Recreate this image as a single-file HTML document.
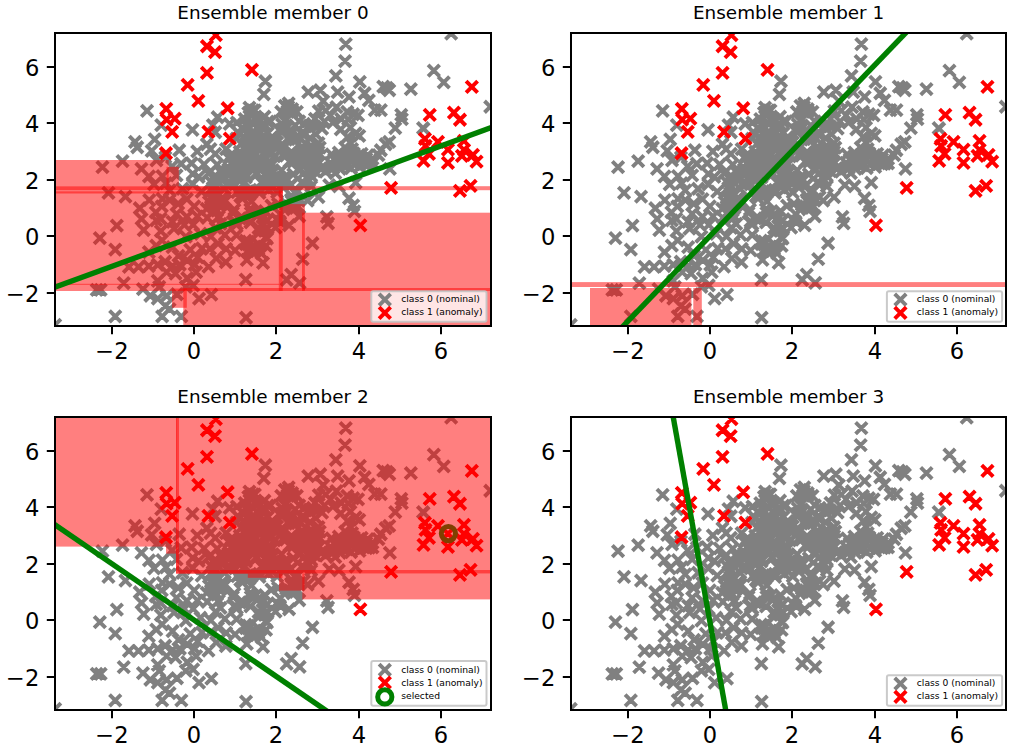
<!DOCTYPE html>
<html><head><meta charset="utf-8"><title>Ensemble members</title>
<style>html,body{margin:0;padding:0;background:#fff}svg{display:block}text{fill:#000}</style>
</head><body>
<svg width="1016" height="750" viewBox="0 0 1016 750">
<clipPath id="clip"><rect x="0" y="0" width="436" height="293"/></clipPath>
<rect width="1016" height="750" fill="#fff"/>
<g transform="translate(55,33)">
<g clip-path="url(#clip)">
<path d="M200.3 87.3l11.5 11.5m0 -11.5l-11.5 11.5M235.7 120.3l11.5 11.5m0 -11.5l-11.5 11.5M156.0 142.1l11.5 11.5m0 -11.5l-11.5 11.5M242.6 125.1l11.5 11.5m0 -11.5l-11.5 11.5M197.8 189.5l11.5 11.5m0 -11.5l-11.5 11.5M176.5 153.4l11.5 11.5m0 -11.5l-11.5 11.5M252.9 121.3l11.5 11.5m0 -11.5l-11.5 11.5M259.8 129.8l11.5 11.5m0 -11.5l-11.5 11.5M198.7 154.1l11.5 11.5m0 -11.5l-11.5 11.5M221.9 110.2l11.5 11.5m0 -11.5l-11.5 11.5M187.0 152.3l11.5 11.5m0 -11.5l-11.5 11.5M216.1 180.4l11.5 11.5m0 -11.5l-11.5 11.5M171.7 139.2l11.5 11.5m0 -11.5l-11.5 11.5M152.9 166.7l11.5 11.5m0 -11.5l-11.5 11.5M243.1 134.2l11.5 11.5m0 -11.5l-11.5 11.5M225.4 166.1l11.5 11.5m0 -11.5l-11.5 11.5M156.4 171.9l11.5 11.5m0 -11.5l-11.5 11.5M210.7 166.8l11.5 11.5m0 -11.5l-11.5 11.5M159.8 133.1l11.5 11.5m0 -11.5l-11.5 11.5M192.8 127.9l11.5 11.5m0 -11.5l-11.5 11.5M206.2 199.9l11.5 11.5m0 -11.5l-11.5 11.5M175.7 99.8l11.5 11.5m0 -11.5l-11.5 11.5M185.2 138.6l11.5 11.5m0 -11.5l-11.5 11.5M244.6 104.5l11.5 11.5m0 -11.5l-11.5 11.5M207.9 151.1l11.5 11.5m0 -11.5l-11.5 11.5M232.3 159.0l11.5 11.5m0 -11.5l-11.5 11.5M211.8 125.4l11.5 11.5m0 -11.5l-11.5 11.5M163.6 161.5l11.5 11.5m0 -11.5l-11.5 11.5M181.1 89.1l11.5 11.5m0 -11.5l-11.5 11.5M248.8 87.0l11.5 11.5m0 -11.5l-11.5 11.5M188.4 117.5l11.5 11.5m0 -11.5l-11.5 11.5M207.1 83.0l11.5 11.5m0 -11.5l-11.5 11.5M224.1 138.4l11.5 11.5m0 -11.5l-11.5 11.5M203.5 104.8l11.5 11.5m0 -11.5l-11.5 11.5M234.4 86.7l11.5 11.5m0 -11.5l-11.5 11.5M189.9 120.5l11.5 11.5m0 -11.5l-11.5 11.5M174.2 182.7l11.5 11.5m0 -11.5l-11.5 11.5M201.3 98.4l11.5 11.5m0 -11.5l-11.5 11.5M184.1 143.6l11.5 11.5m0 -11.5l-11.5 11.5M189.6 170.5l11.5 11.5m0 -11.5l-11.5 11.5M305.6 120.1l11.5 11.5m0 -11.5l-11.5 11.5M183.1 99.0l11.5 11.5m0 -11.5l-11.5 11.5M179.1 95.5l11.5 11.5m0 -11.5l-11.5 11.5M160.5 165.6l11.5 11.5m0 -11.5l-11.5 11.5M176.1 185.3l11.5 11.5m0 -11.5l-11.5 11.5M201.8 187.1l11.5 11.5m0 -11.5l-11.5 11.5M308.4 124.9l11.5 11.5m0 -11.5l-11.5 11.5M204.8 148.4l11.5 11.5m0 -11.5l-11.5 11.5M188.3 109.1l11.5 11.5m0 -11.5l-11.5 11.5M186.4 154.2l11.5 11.5m0 -11.5l-11.5 11.5M189.6 128.5l11.5 11.5m0 -11.5l-11.5 11.5M205.3 134.5l11.5 11.5m0 -11.5l-11.5 11.5M230.0 145.8l11.5 11.5m0 -11.5l-11.5 11.5M219.7 92.3l11.5 11.5m0 -11.5l-11.5 11.5M175.1 136.9l11.5 11.5m0 -11.5l-11.5 11.5M200.7 143.7l11.5 11.5m0 -11.5l-11.5 11.5M164.0 150.2l11.5 11.5m0 -11.5l-11.5 11.5M187.8 106.7l11.5 11.5m0 -11.5l-11.5 11.5M248.5 141.8l11.5 11.5m0 -11.5l-11.5 11.5M231.8 170.5l11.5 11.5m0 -11.5l-11.5 11.5M221.8 146.0l11.5 11.5m0 -11.5l-11.5 11.5M166.6 132.0l11.5 11.5m0 -11.5l-11.5 11.5M158.5 166.9l11.5 11.5m0 -11.5l-11.5 11.5M172.1 174.1l11.5 11.5m0 -11.5l-11.5 11.5M212.8 139.0l11.5 11.5m0 -11.5l-11.5 11.5M173.3 130.4l11.5 11.5m0 -11.5l-11.5 11.5M232.3 116.2l11.5 11.5m0 -11.5l-11.5 11.5M179.0 113.1l11.5 11.5m0 -11.5l-11.5 11.5M238.7 131.8l11.5 11.5m0 -11.5l-11.5 11.5M191.4 84.0l11.5 11.5m0 -11.5l-11.5 11.5M261.1 129.5l11.5 11.5m0 -11.5l-11.5 11.5M222.0 116.2l11.5 11.5m0 -11.5l-11.5 11.5M191.0 84.0l11.5 11.5m0 -11.5l-11.5 11.5M234.2 100.8l11.5 11.5m0 -11.5l-11.5 11.5M198.4 111.0l11.5 11.5m0 -11.5l-11.5 11.5M229.7 91.5l11.5 11.5m0 -11.5l-11.5 11.5M177.9 137.0l11.5 11.5m0 -11.5l-11.5 11.5M211.9 141.9l11.5 11.5m0 -11.5l-11.5 11.5M203.5 191.9l11.5 11.5m0 -11.5l-11.5 11.5M213.8 117.5l11.5 11.5m0 -11.5l-11.5 11.5M158.1 177.9l11.5 11.5m0 -11.5l-11.5 11.5M189.0 89.2l11.5 11.5m0 -11.5l-11.5 11.5M193.3 101.3l11.5 11.5m0 -11.5l-11.5 11.5M195.2 134.7l11.5 11.5m0 -11.5l-11.5 11.5M172.6 132.6l11.5 11.5m0 -11.5l-11.5 11.5M190.2 211.8l11.5 11.5m0 -11.5l-11.5 11.5M187.1 212.4l11.5 11.5m0 -11.5l-11.5 11.5M198.0 118.9l11.5 11.5m0 -11.5l-11.5 11.5M225.5 141.3l11.5 11.5m0 -11.5l-11.5 11.5M179.8 141.6l11.5 11.5m0 -11.5l-11.5 11.5M197.1 99.9l11.5 11.5m0 -11.5l-11.5 11.5M244.0 145.4l11.5 11.5m0 -11.5l-11.5 11.5M211.3 114.2l11.5 11.5m0 -11.5l-11.5 11.5M169.6 144.6l11.5 11.5m0 -11.5l-11.5 11.5M168.5 119.5l11.5 11.5m0 -11.5l-11.5 11.5M239.5 160.5l11.5 11.5m0 -11.5l-11.5 11.5M227.9 64.7l11.5 11.5m0 -11.5l-11.5 11.5M230.2 146.3l11.5 11.5m0 -11.5l-11.5 11.5M228.7 122.9l11.5 11.5m0 -11.5l-11.5 11.5M226.2 169.1l11.5 11.5m0 -11.5l-11.5 11.5M259.0 108.8l11.5 11.5m0 -11.5l-11.5 11.5M232.5 135.5l11.5 11.5m0 -11.5l-11.5 11.5M224.1 82.3l11.5 11.5m0 -11.5l-11.5 11.5M221.3 105.4l11.5 11.5m0 -11.5l-11.5 11.5M181.5 153.4l11.5 11.5m0 -11.5l-11.5 11.5M170.0 144.6l11.5 11.5m0 -11.5l-11.5 11.5M184.9 202.0l11.5 11.5m0 -11.5l-11.5 11.5M227.4 68.0l11.5 11.5m0 -11.5l-11.5 11.5M221.5 110.5l11.5 11.5m0 -11.5l-11.5 11.5M169.8 117.0l11.5 11.5m0 -11.5l-11.5 11.5M199.0 193.2l11.5 11.5m0 -11.5l-11.5 11.5M208.4 124.5l11.5 11.5m0 -11.5l-11.5 11.5M206.5 129.9l11.5 11.5m0 -11.5l-11.5 11.5M192.2 71.6l11.5 11.5m0 -11.5l-11.5 11.5M194.0 207.8l11.5 11.5m0 -11.5l-11.5 11.5M187.9 105.0l11.5 11.5m0 -11.5l-11.5 11.5M231.6 93.3l11.5 11.5m0 -11.5l-11.5 11.5M194.1 71.7l11.5 11.5m0 -11.5l-11.5 11.5M225.1 116.9l11.5 11.5m0 -11.5l-11.5 11.5M196.0 177.6l11.5 11.5m0 -11.5l-11.5 11.5M255.7 110.3l11.5 11.5m0 -11.5l-11.5 11.5M239.3 124.7l11.5 11.5m0 -11.5l-11.5 11.5M229.2 97.9l11.5 11.5m0 -11.5l-11.5 11.5M221.4 85.6l11.5 11.5m0 -11.5l-11.5 11.5M203.4 78.1l11.5 11.5m0 -11.5l-11.5 11.5M186.2 103.8l11.5 11.5m0 -11.5l-11.5 11.5M271.4 127.5l11.5 11.5m0 -11.5l-11.5 11.5M215.4 144.6l11.5 11.5m0 -11.5l-11.5 11.5M209.2 116.1l11.5 11.5m0 -11.5l-11.5 11.5M230.3 160.8l11.5 11.5m0 -11.5l-11.5 11.5M191.5 102.3l11.5 11.5m0 -11.5l-11.5 11.5M213.0 132.6l11.5 11.5m0 -11.5l-11.5 11.5M151.7 173.1l11.5 11.5m0 -11.5l-11.5 11.5M233.5 168.9l11.5 11.5m0 -11.5l-11.5 11.5M222.6 148.8l11.5 11.5m0 -11.5l-11.5 11.5M185.1 205.4l11.5 11.5m0 -11.5l-11.5 11.5M254.0 110.8l11.5 11.5m0 -11.5l-11.5 11.5M233.8 153.6l11.5 11.5m0 -11.5l-11.5 11.5M211.1 98.5l11.5 11.5m0 -11.5l-11.5 11.5M196.6 134.9l11.5 11.5m0 -11.5l-11.5 11.5M185.5 102.1l11.5 11.5m0 -11.5l-11.5 11.5M229.4 167.7l11.5 11.5m0 -11.5l-11.5 11.5M216.4 103.7l11.5 11.5m0 -11.5l-11.5 11.5M202.7 128.7l11.5 11.5m0 -11.5l-11.5 11.5M230.5 95.7l11.5 11.5m0 -11.5l-11.5 11.5M183.3 180.9l11.5 11.5m0 -11.5l-11.5 11.5M195.5 210.3l11.5 11.5m0 -11.5l-11.5 11.5M229.0 92.9l11.5 11.5m0 -11.5l-11.5 11.5M183.6 128.2l11.5 11.5m0 -11.5l-11.5 11.5M170.7 124.6l11.5 11.5m0 -11.5l-11.5 11.5M257.2 122.3l11.5 11.5m0 -11.5l-11.5 11.5M208.7 115.1l11.5 11.5m0 -11.5l-11.5 11.5M193.0 118.1l11.5 11.5m0 -11.5l-11.5 11.5M205.8 190.3l11.5 11.5m0 -11.5l-11.5 11.5M154.5 136.8l11.5 11.5m0 -11.5l-11.5 11.5M178.5 120.1l11.5 11.5m0 -11.5l-11.5 11.5M214.8 188.8l11.5 11.5m0 -11.5l-11.5 11.5M202.9 106.0l11.5 11.5m0 -11.5l-11.5 11.5M190.1 174.2l11.5 11.5m0 -11.5l-11.5 11.5M199.1 106.5l11.5 11.5m0 -11.5l-11.5 11.5M185.3 137.1l11.5 11.5m0 -11.5l-11.5 11.5M210.8 102.7l11.5 11.5m0 -11.5l-11.5 11.5M218.0 139.9l11.5 11.5m0 -11.5l-11.5 11.5M247.6 114.5l11.5 11.5m0 -11.5l-11.5 11.5M199.6 119.7l11.5 11.5m0 -11.5l-11.5 11.5M179.2 179.7l11.5 11.5m0 -11.5l-11.5 11.5M187.6 74.1l11.5 11.5m0 -11.5l-11.5 11.5M152.0 149.0l11.5 11.5m0 -11.5l-11.5 11.5M200.7 214.7l11.5 11.5m0 -11.5l-11.5 11.5M190.5 77.1l11.5 11.5m0 -11.5l-11.5 11.5M162.4 140.7l11.5 11.5m0 -11.5l-11.5 11.5M264.7 132.8l11.5 11.5m0 -11.5l-11.5 11.5M185.4 128.2l11.5 11.5m0 -11.5l-11.5 11.5M240.9 121.4l11.5 11.5m0 -11.5l-11.5 11.5M187.6 101.8l11.5 11.5m0 -11.5l-11.5 11.5M242.8 114.3l11.5 11.5m0 -11.5l-11.5 11.5M230.9 99.7l11.5 11.5m0 -11.5l-11.5 11.5M301.5 121.3l11.5 11.5m0 -11.5l-11.5 11.5M189.7 183.6l11.5 11.5m0 -11.5l-11.5 11.5M182.6 120.8l11.5 11.5m0 -11.5l-11.5 11.5M188.8 156.2l11.5 11.5m0 -11.5l-11.5 11.5M255.0 95.4l11.5 11.5m0 -11.5l-11.5 11.5M198.4 95.4l11.5 11.5m0 -11.5l-11.5 11.5M212.3 148.6l11.5 11.5m0 -11.5l-11.5 11.5M173.6 170.9l11.5 11.5m0 -11.5l-11.5 11.5M214.7 107.7l11.5 11.5m0 -11.5l-11.5 11.5M197.6 210.5l11.5 11.5m0 -11.5l-11.5 11.5M198.4 151.1l11.5 11.5m0 -11.5l-11.5 11.5M205.9 128.1l11.5 11.5m0 -11.5l-11.5 11.5M207.0 94.4l11.5 11.5m0 -11.5l-11.5 11.5M223.2 89.1l11.5 11.5m0 -11.5l-11.5 11.5M161.2 159.7l11.5 11.5m0 -11.5l-11.5 11.5M208.2 141.6l11.5 11.5m0 -11.5l-11.5 11.5M164.5 139.5l11.5 11.5m0 -11.5l-11.5 11.5M226.8 72.4l11.5 11.5m0 -11.5l-11.5 11.5M300.8 123.7l11.5 11.5m0 -11.5l-11.5 11.5M182.7 125.5l11.5 11.5m0 -11.5l-11.5 11.5M232.7 123.0l11.5 11.5m0 -11.5l-11.5 11.5M153.2 150.5l11.5 11.5m0 -11.5l-11.5 11.5M250.9 111.2l11.5 11.5m0 -11.5l-11.5 11.5M216.4 153.6l11.5 11.5m0 -11.5l-11.5 11.5M217.3 165.3l11.5 11.5m0 -11.5l-11.5 11.5M220.8 131.5l11.5 11.5m0 -11.5l-11.5 11.5M150.2 159.2l11.5 11.5m0 -11.5l-11.5 11.5M228.0 100.3l11.5 11.5m0 -11.5l-11.5 11.5M222.8 91.7l11.5 11.5m0 -11.5l-11.5 11.5M225.3 80.6l11.5 11.5m0 -11.5l-11.5 11.5M167.7 130.3l11.5 11.5m0 -11.5l-11.5 11.5M161.6 132.0l11.5 11.5m0 -11.5l-11.5 11.5M231.4 70.4l11.5 11.5m0 -11.5l-11.5 11.5M231.6 72.5l11.5 11.5m0 -11.5l-11.5 11.5M230.4 122.2l11.5 11.5m0 -11.5l-11.5 11.5M181.1 104.5l11.5 11.5m0 -11.5l-11.5 11.5M230.7 113.1l11.5 11.5m0 -11.5l-11.5 11.5M174.5 184.7l11.5 11.5m0 -11.5l-11.5 11.5M165.5 145.6l11.5 11.5m0 -11.5l-11.5 11.5M252.5 119.4l11.5 11.5m0 -11.5l-11.5 11.5M251.4 124.7l11.5 11.5m0 -11.5l-11.5 11.5M206.4 181.5l11.5 11.5m0 -11.5l-11.5 11.5M220.1 91.3l11.5 11.5m0 -11.5l-11.5 11.5M249.1 130.5l11.5 11.5m0 -11.5l-11.5 11.5M183.7 153.8l11.5 11.5m0 -11.5l-11.5 11.5M244.6 95.5l11.5 11.5m0 -11.5l-11.5 11.5M250.4 137.1l11.5 11.5m0 -11.5l-11.5 11.5M187.0 87.1l11.5 11.5m0 -11.5l-11.5 11.5M162.3 162.1l11.5 11.5m0 -11.5l-11.5 11.5M213.4 104.7l11.5 11.5m0 -11.5l-11.5 11.5M148.2 163.2l11.5 11.5m0 -11.5l-11.5 11.5M240.1 117.9l11.5 11.5m0 -11.5l-11.5 11.5M254.0 132.3l11.5 11.5m0 -11.5l-11.5 11.5M187.8 202.9l11.5 11.5m0 -11.5l-11.5 11.5M153.7 145.8l11.5 11.5m0 -11.5l-11.5 11.5M214.0 100.6l11.5 11.5m0 -11.5l-11.5 11.5M179.6 157.5l11.5 11.5m0 -11.5l-11.5 11.5M230.9 162.7l11.5 11.5m0 -11.5l-11.5 11.5M197.9 110.3l11.5 11.5m0 -11.5l-11.5 11.5M184.0 80.3l11.5 11.5m0 -11.5l-11.5 11.5M202.3 179.2l11.5 11.5m0 -11.5l-11.5 11.5M238.7 131.1l11.5 11.5m0 -11.5l-11.5 11.5M190.6 162.7l11.5 11.5m0 -11.5l-11.5 11.5M189.8 100.4l11.5 11.5m0 -11.5l-11.5 11.5M293.1 114.6l11.5 11.5m0 -11.5l-11.5 11.5M186.2 203.5l11.5 11.5m0 -11.5l-11.5 11.5M219.3 175.4l11.5 11.5m0 -11.5l-11.5 11.5M241.5 111.4l11.5 11.5m0 -11.5l-11.5 11.5M181.7 159.7l11.5 11.5m0 -11.5l-11.5 11.5M203.8 85.9l11.5 11.5m0 -11.5l-11.5 11.5M157.3 154.8l11.5 11.5m0 -11.5l-11.5 11.5M206.9 189.7l11.5 11.5m0 -11.5l-11.5 11.5M251.7 108.3l11.5 11.5m0 -11.5l-11.5 11.5M199.6 129.2l11.5 11.5m0 -11.5l-11.5 11.5M193.5 174.0l11.5 11.5m0 -11.5l-11.5 11.5M207.7 113.4l11.5 11.5m0 -11.5l-11.5 11.5M219.1 182.8l11.5 11.5m0 -11.5l-11.5 11.5M204.2 172.3l11.5 11.5m0 -11.5l-11.5 11.5M236.0 97.4l11.5 11.5m0 -11.5l-11.5 11.5M228.3 186.5l11.5 11.5m0 -11.5l-11.5 11.5M177.1 140.1l11.5 11.5m0 -11.5l-11.5 11.5M204.2 191.9l11.5 11.5m0 -11.5l-11.5 11.5M189.8 209.1l11.5 11.5m0 -11.5l-11.5 11.5M193.6 97.1l11.5 11.5m0 -11.5l-11.5 11.5M164.7 161.9l11.5 11.5m0 -11.5l-11.5 11.5M159.8 185.1l11.5 11.5m0 -11.5l-11.5 11.5M86.3 72.2l11.5 11.5m0 -11.5l-11.5 11.5M285.0 5.3l11.5 11.5m0 -11.5l-11.5 11.5M284.3 22.3l11.5 11.5m0 -11.5l-11.5 11.5M390.4 -5.1l11.5 11.5m0 -11.5l-11.5 11.5M373.1 31.9l11.5 11.5m0 -11.5l-11.5 11.5M383.0 43.7l11.5 11.5m0 -11.5l-11.5 11.5M362.3 89.4l11.5 11.5m0 -11.5l-11.5 11.5M429.5 68.0l11.5 11.5m0 -11.5l-11.5 11.5M115.8 136.7l11.5 11.5m0 -11.5l-11.5 11.5M132.0 135.2l11.5 11.5m0 -11.5l-11.5 11.5M101.0 167.7l11.5 11.5m0 -11.5l-11.5 11.5M95.1 173.6l11.5 11.5m0 -11.5l-11.5 11.5M115.8 175.1l11.5 11.5m0 -11.5l-11.5 11.5M121.7 150.0l11.5 11.5m0 -11.5l-11.5 11.5M126.1 160.3l11.5 11.5m0 -11.5l-11.5 11.5M132.0 145.5l11.5 11.5m0 -11.5l-11.5 11.5M137.9 138.2l11.5 11.5m0 -11.5l-11.5 11.5M140.9 152.9l11.5 11.5m0 -11.5l-11.5 11.5M133.5 167.7l11.5 11.5m0 -11.5l-11.5 11.5M126.1 178.0l11.5 11.5m0 -11.5l-11.5 11.5M241.9 220.4l11.5 11.5m0 -11.5l-11.5 11.5M230.4 235.9l11.5 11.5m0 -11.5l-11.5 11.5M225.9 241.1l11.5 11.5m0 -11.5l-11.5 11.5M238.9 244.1l11.5 11.5m0 -11.5l-11.5 11.5M185.0 240.8l11.5 11.5m0 -11.5l-11.5 11.5M185.3 278.8l11.5 11.5m0 -11.5l-11.5 11.5M150.6 255.9l11.5 11.5m0 -11.5l-11.5 11.5M147.7 227.8l11.5 11.5m0 -11.5l-11.5 11.5M149.2 210.1l11.5 11.5m0 -11.5l-11.5 11.5M165.1 223.4l11.5 11.5m0 -11.5l-11.5 11.5M165.4 210.1l11.5 11.5m0 -11.5l-11.5 11.5M174.3 211.6l11.5 11.5m0 -11.5l-11.5 11.5M186.1 221.2l11.5 11.5m0 -11.5l-11.5 11.5M202.3 224.1l11.5 11.5m0 -11.5l-11.5 11.5M193.4 213.1l11.5 11.5m0 -11.5l-11.5 11.5M205.3 207.2l11.5 11.5m0 -11.5l-11.5 11.5M187.5 205.7l11.5 11.5m0 -11.5l-11.5 11.5M197.9 205.7l11.5 11.5m0 -11.5l-11.5 11.5M362.8 89.8l11.5 11.5m0 -11.5l-11.5 11.5M275.1 37.1l11.5 11.5m0 -11.5l-11.5 11.5M299.1 43.1l11.5 11.5m0 -11.5l-11.5 11.5M247.5 53.3l11.5 11.5m0 -11.5l-11.5 11.5M259.5 51.5l11.5 11.5m0 -11.5l-11.5 11.5M276.9 53.3l11.5 11.5m0 -11.5l-11.5 11.5M288.3 58.1l11.5 11.5m0 -11.5l-11.5 11.5M262.5 62.3l11.5 11.5m0 -11.5l-11.5 11.5M303.9 54.5l11.5 11.5m0 -11.5l-11.5 11.5M308.1 61.7l11.5 11.5m0 -11.5l-11.5 11.5M322.5 47.9l11.5 11.5m0 -11.5l-11.5 11.5M326.1 49.1l11.5 11.5m0 -11.5l-11.5 11.5M328.5 51.5l11.5 11.5m0 -11.5l-11.5 11.5M350.1 50.3l11.5 11.5m0 -11.5l-11.5 11.5M314.1 71.3l11.5 11.5m0 -11.5l-11.5 11.5M320.1 71.3l11.5 11.5m0 -11.5l-11.5 11.5M340.5 76.1l11.5 11.5m0 -11.5l-11.5 11.5M341.1 80.3l11.5 11.5m0 -11.5l-11.5 11.5M334.5 89.3l11.5 11.5m0 -11.5l-11.5 11.5M286.5 73.1l11.5 11.5m0 -11.5l-11.5 11.5M292.5 75.5l11.5 11.5m0 -11.5l-11.5 11.5M297.3 76.7l11.5 11.5m0 -11.5l-11.5 11.5M264.9 71.9l11.5 11.5m0 -11.5l-11.5 11.5M269.7 76.7l11.5 11.5m0 -11.5l-11.5 11.5M263.7 82.7l11.5 11.5m0 -11.5l-11.5 11.5M272.1 83.9l11.5 11.5m0 -11.5l-11.5 11.5M261.3 89.9l11.5 11.5m0 -11.5l-11.5 11.5M243.3 85.1l11.5 11.5m0 -11.5l-11.5 11.5M238.5 82.7l11.5 11.5m0 -11.5l-11.5 11.5M240.9 94.7l11.5 11.5m0 -11.5l-11.5 11.5M249.3 99.5l11.5 11.5m0 -11.5l-11.5 11.5M257.7 104.3l11.5 11.5m0 -11.5l-11.5 11.5M255.3 113.9l11.5 11.5m0 -11.5l-11.5 11.5M245.7 113.9l11.5 11.5m0 -11.5l-11.5 11.5M294.9 94.7l11.5 11.5m0 -11.5l-11.5 11.5M298.5 97.1l11.5 11.5m0 -11.5l-11.5 11.5M290.1 104.3l11.5 11.5m0 -11.5l-11.5 11.5M291.3 110.3l11.5 11.5m0 -11.5l-11.5 11.5M278.1 113.9l11.5 11.5m0 -11.5l-11.5 11.5M284.1 116.3l11.5 11.5m0 -11.5l-11.5 11.5M300.9 115.1l11.5 11.5m0 -11.5l-11.5 11.5M306.9 116.3l11.5 11.5m0 -11.5l-11.5 11.5M324.9 105.5l11.5 11.5m0 -11.5l-11.5 11.5M320.1 111.5l11.5 11.5m0 -11.5l-11.5 11.5M317.7 116.3l11.5 11.5m0 -11.5l-11.5 11.5M328.5 103.1l11.5 11.5m0 -11.5l-11.5 11.5M236.1 73.1l11.5 11.5m0 -11.5l-11.5 11.5M275.7 68.3l11.5 11.5m0 -11.5l-11.5 11.5M280.5 80.3l11.5 11.5m0 -11.5l-11.5 11.5M204.6 42.5l11.5 11.5m0 -11.5l-11.5 11.5M203.1 55.7l11.5 11.5m0 -11.5l-11.5 11.5M188.7 68.9l11.5 11.5m0 -11.5l-11.5 11.5M189.3 73.1l11.5 11.5m0 -11.5l-11.5 11.5M131.7 91.1l11.5 11.5m0 -11.5l-11.5 11.5M156.9 78.5l11.5 11.5m0 -11.5l-11.5 11.5M152.1 86.3l11.5 11.5m0 -11.5l-11.5 11.5M168.9 85.1l11.5 11.5m0 -11.5l-11.5 11.5M176.1 83.9l11.5 11.5m0 -11.5l-11.5 11.5M154.5 93.5l11.5 11.5m0 -11.5l-11.5 11.5M136.5 112.7l11.5 11.5m0 -11.5l-11.5 11.5M146.1 105.5l11.5 11.5m0 -11.5l-11.5 11.5M149.7 110.3l11.5 11.5m0 -11.5l-11.5 11.5M154.5 115.1l11.5 11.5m0 -11.5l-11.5 11.5M118.5 111.5l11.5 11.5m0 -11.5l-11.5 11.5M165.3 110.3l11.5 11.5m0 -11.5l-11.5 11.5M171.3 115.1l11.5 11.5m0 -11.5l-11.5 11.5M197.7 80.3l11.5 11.5m0 -11.5l-11.5 11.5M224.1 67.1l11.5 11.5m0 -11.5l-11.5 11.5M220.5 73.1l11.5 11.5m0 -11.5l-11.5 11.5M228.9 71.9l11.5 11.5m0 -11.5l-11.5 11.5M209.7 82.7l11.5 11.5m0 -11.5l-11.5 11.5M203.7 77.9l11.5 11.5m0 -11.5l-11.5 11.5M329.1 130.1l11.5 11.5m0 -11.5l-11.5 11.5M294.9 143.9l11.5 11.5m0 -11.5l-11.5 11.5M288.3 159.5l11.5 11.5m0 -11.5l-11.5 11.5M292.5 166.7l11.5 11.5m0 -11.5l-11.5 11.5M293.7 172.7l11.5 11.5m0 -11.5l-11.5 11.5M266.1 178.1l11.5 11.5m0 -11.5l-11.5 11.5M267.3 184.7l11.5 11.5m0 -11.5l-11.5 11.5M251.7 204.5l11.5 11.5m0 -11.5l-11.5 11.5M238.5 177.5l11.5 11.5m0 -11.5l-11.5 11.5M274.5 134.3l11.5 11.5m0 -11.5l-11.5 11.5M249.3 133.1l11.5 11.5m0 -11.5l-11.5 11.5M268.5 146.3l11.5 11.5m0 -11.5l-11.5 11.5M278.1 147.5l11.5 11.5m0 -11.5l-11.5 11.5M250.5 147.5l11.5 11.5m0 -11.5l-11.5 11.5M257.7 158.3l11.5 11.5m0 -11.5l-11.5 11.5M243.3 158.3l11.5 11.5m0 -11.5l-11.5 11.5M240.9 143.9l11.5 11.5m0 -11.5l-11.5 11.5M237.3 167.9l11.5 11.5m0 -11.5l-11.5 11.5M246.9 161.9l11.5 11.5m0 -11.5l-11.5 11.5M245.7 123.5l11.5 11.5m0 -11.5l-11.5 11.5M257.7 124.7l11.5 11.5m0 -11.5l-11.5 11.5M269.7 124.1l11.5 11.5m0 -11.5l-11.5 11.5M281.7 125.9l11.5 11.5m0 -11.5l-11.5 11.5M293.7 125.3l11.5 11.5m0 -11.5l-11.5 11.5M305.7 125.3l11.5 11.5m0 -11.5l-11.5 11.5M311.7 124.7l11.5 11.5m0 -11.5l-11.5 11.5M41.7 128.3l11.5 11.5m0 -11.5l-11.5 11.5M61.8 122.3l11.5 11.5m0 -11.5l-11.5 11.5M80.7 130.1l11.5 11.5m0 -11.5l-11.5 11.5M47.7 154.1l11.5 11.5m0 -11.5l-11.5 11.5M64.7 157.9l11.5 11.5m0 -11.5l-11.5 11.5M74.3 103.1l11.5 11.5m0 -11.5l-11.5 11.5M76.5 108.5l11.5 11.5m0 -11.5l-11.5 11.5M93.9 100.7l11.5 11.5m0 -11.5l-11.5 11.5M90.9 112.1l11.5 11.5m0 -11.5l-11.5 11.5M95.7 121.7l11.5 11.5m0 -11.5l-11.5 11.5M100.5 86.3l11.5 11.5m0 -11.5l-11.5 11.5M88.5 161.3l11.5 11.5m0 -11.5l-11.5 11.5M93.3 145.7l11.5 11.5m0 -11.5l-11.5 11.5M101.7 137.3l11.5 11.5m0 -11.5l-11.5 11.5M105.3 144.5l11.5 11.5m0 -11.5l-11.5 11.5M108.9 151.7l11.5 11.5m0 -11.5l-11.5 11.5M101.7 160.1l11.5 11.5m0 -11.5l-11.5 11.5M111.3 127.7l11.5 11.5m0 -11.5l-11.5 11.5M108.9 161.3l11.5 11.5m0 -11.5l-11.5 11.5M56.1 186.8l11.5 11.5m0 -11.5l-11.5 11.5M39.1 199.4l11.5 11.5m0 -11.5l-11.5 11.5M54.5 210.9l11.5 11.5m0 -11.5l-11.5 11.5M83.0 191.3l11.5 11.5m0 -11.5l-11.5 11.5M80.8 180.2l11.5 11.5m0 -11.5l-11.5 11.5M95.5 181.7l11.5 11.5m0 -11.5l-11.5 11.5M100.0 180.2l11.5 11.5m0 -11.5l-11.5 11.5M111.8 183.2l11.5 11.5m0 -11.5l-11.5 11.5M113.2 189.8l11.5 11.5m0 -11.5l-11.5 11.5M101.4 201.6l11.5 11.5m0 -11.5l-11.5 11.5M95.5 206.8l11.5 11.5m0 -11.5l-11.5 11.5M88.1 213.4l11.5 11.5m0 -11.5l-11.5 11.5M111.8 208.3l11.5 11.5m0 -11.5l-11.5 11.5M117.7 217.1l11.5 11.5m0 -11.5l-11.5 11.5M68.2 228.2l11.5 11.5m0 -11.5l-11.5 11.5M77.8 228.2l11.5 11.5m0 -11.5l-11.5 11.5M88.1 227.4l11.5 11.5m0 -11.5l-11.5 11.5M97.0 226.0l11.5 11.5m0 -11.5l-11.5 11.5M104.4 223.0l11.5 11.5m0 -11.5l-11.5 11.5M111.8 227.4l11.5 11.5m0 -11.5l-11.5 11.5M119.1 226.0l11.5 11.5m0 -11.5l-11.5 11.5M105.9 233.4l11.5 11.5m0 -11.5l-11.5 11.5M114.7 234.8l11.5 11.5m0 -11.5l-11.5 11.5M63.0 244.4l11.5 11.5m0 -11.5l-11.5 11.5M36.0 251.1l11.5 11.5m0 -11.5l-11.5 11.5M39.9 251.1l11.5 11.5m0 -11.5l-11.5 11.5M82.2 250.3l11.5 11.5m0 -11.5l-11.5 11.5M97.0 242.2l11.5 11.5m0 -11.5l-11.5 11.5M98.5 248.1l11.5 11.5m0 -11.5l-11.5 11.5M89.6 257.0l11.5 11.5m0 -11.5l-11.5 11.5M97.0 259.9l11.5 11.5m0 -11.5l-11.5 11.5M105.9 257.0l11.5 11.5m0 -11.5l-11.5 11.5M116.2 255.5l11.5 11.5m0 -11.5l-11.5 11.5M104.4 267.3l11.5 11.5m0 -11.5l-11.5 11.5M108.8 270.3l11.5 11.5m0 -11.5l-11.5 11.5M101.4 277.6l11.5 11.5m0 -11.5l-11.5 11.5M120.6 277.6l11.5 11.5m0 -11.5l-11.5 11.5M54.5 277.6l11.5 11.5m0 -11.5l-11.5 11.5M-5.6 286.2l11.5 11.5m0 -11.5l-11.5 11.5M125.1 197.9l11.5 11.5m0 -11.5l-11.5 11.5M129.5 211.2l11.5 11.5m0 -11.5l-11.5 11.5M126.5 221.5l11.5 11.5m0 -11.5l-11.5 11.5M133.9 226.0l11.5 11.5m0 -11.5l-11.5 11.5M126.5 239.3l11.5 11.5m0 -11.5l-11.5 11.5M132.4 246.6l11.5 11.5m0 -11.5l-11.5 11.5M135.4 233.4l11.5 11.5m0 -11.5l-11.5 11.5M138.3 259.9l11.5 11.5m0 -11.5l-11.5 11.5M125.1 248.1l11.5 11.5m0 -11.5l-11.5 11.5M123.6 186.1l11.5 11.5m0 -11.5l-11.5 11.5M132.4 186.1l11.5 11.5m0 -11.5l-11.5 11.5M139.8 195.0l11.5 11.5m0 -11.5l-11.5 11.5M141.3 209.7l11.5 11.5m0 -11.5l-11.5 11.5M136.9 218.6l11.5 11.5m0 -11.5l-11.5 11.5M289.7 88.9l11.5 11.5m0 -11.5l-11.5 11.5M254.2 80.2l11.5 11.5m0 -11.5l-11.5 11.5M292.8 117.2l11.5 11.5m0 -11.5l-11.5 11.5M286.7 98.3l11.5 11.5m0 -11.5l-11.5 11.5M258.0 72.3l11.5 11.5m0 -11.5l-11.5 11.5M280.0 90.6l11.5 11.5m0 -11.5l-11.5 11.5M253.8 87.6l11.5 11.5m0 -11.5l-11.5 11.5M284.4 108.8l11.5 11.5m0 -11.5l-11.5 11.5M287.4 80.6l11.5 11.5m0 -11.5l-11.5 11.5M147.8 134.5l11.5 11.5m0 -11.5l-11.5 11.5M154.9 189.0l11.5 11.5m0 -11.5l-11.5 11.5M100.1 192.4l11.5 11.5m0 -11.5l-11.5 11.5M146.6 179.2l11.5 11.5m0 -11.5l-11.5 11.5M143.3 125.7l11.5 11.5m0 -11.5l-11.5 11.5M150.5 143.4l11.5 11.5m0 -11.5l-11.5 11.5M175.8 196.4l11.5 11.5m0 -11.5l-11.5 11.5M164.1 196.2l11.5 11.5m0 -11.5l-11.5 11.5M155.4 219.7l11.5 11.5m0 -11.5l-11.5 11.5M79.0 169.5l11.5 11.5m0 -11.5l-11.5 11.5M150.1 197.7l11.5 11.5m0 -11.5l-11.5 11.5M130.8 124.5l11.5 11.5m0 -11.5l-11.5 11.5M156.4 125.9l11.5 11.5m0 -11.5l-11.5 11.5M120.4 125.0l11.5 11.5m0 -11.5l-11.5 11.5M145.9 170.1l11.5 11.5m0 -11.5l-11.5 11.5M88.2 137.7l11.5 11.5m0 -11.5l-11.5 11.5M104.6 118.7l11.5 11.5m0 -11.5l-11.5 11.5M157.3 204.8l11.5 11.5m0 -11.5l-11.5 11.5M136.7 177.6l11.5 11.5m0 -11.5l-11.5 11.5M117.4 165.0l11.5 11.5m0 -11.5l-11.5 11.5M277.1 123.1l11.5 11.5m0 -11.5l-11.5 11.5M272.4 129.5l11.5 11.5m0 -11.5l-11.5 11.5M299.5 123.3l11.5 11.5m0 -11.5l-11.5 11.5M286.3 126.7l11.5 11.5m0 -11.5l-11.5 11.5M303.4 120.4l11.5 11.5m0 -11.5l-11.5 11.5M288.0 119.2l11.5 11.5m0 -11.5l-11.5 11.5M273.3 120.7l11.5 11.5m0 -11.5l-11.5 11.5M279.5 118.5l11.5 11.5m0 -11.5l-11.5 11.5M298.8 128.2l11.5 11.5m0 -11.5l-11.5 11.5M311.7 120.1l11.5 11.5m0 -11.5l-11.5 11.5M288.0 113.6l11.5 11.5m0 -11.5l-11.5 11.5M270.8 115.7l11.5 11.5m0 -11.5l-11.5 11.5M297.6 118.4l11.5 11.5m0 -11.5l-11.5 11.5M279.2 130.0l11.5 11.5m0 -11.5l-11.5 11.5M290.3 129.3l11.5 11.5m0 -11.5l-11.5 11.5M283.8 121.2l11.5 11.5m0 -11.5l-11.5 11.5" stroke="#808080" stroke-width="3.9" fill="none"/>
<path d="M126.9 46.2l11.5 11.5m0 -11.5l-11.5 11.5M137.6 62.1l11.5 11.5m0 -11.5l-11.5 11.5M105.5 70.2l11.5 11.5m0 -11.5l-11.5 11.5M105.8 80.9l11.5 11.5m0 -11.5l-11.5 11.5M114.0 79.8l11.5 11.5m0 -11.5l-11.5 11.5M111.4 93.1l11.5 11.5m0 -11.5l-11.5 11.5M155.1 -3.6l11.5 11.5m0 -11.5l-11.5 11.5M146.2 7.5l11.5 11.5m0 -11.5l-11.5 11.5M154.3 13.4l11.5 11.5m0 -11.5l-11.5 11.5M146.2 34.1l11.5 11.5m0 -11.5l-11.5 11.5M191.2 31.1l11.5 11.5m0 -11.5l-11.5 11.5M166.9 69.5l11.5 11.5m0 -11.5l-11.5 11.5M147.7 93.1l11.5 11.5m0 -11.5l-11.5 11.5M169.1 99.8l11.5 11.5m0 -11.5l-11.5 11.5M411.1 48.1l11.5 11.5m0 -11.5l-11.5 11.5M105.2 114.5l11.5 11.5m0 -11.5l-11.5 11.5M330.3 149.2l11.5 11.5m0 -11.5l-11.5 11.5M299.6 186.6l11.5 11.5m0 -11.5l-11.5 11.5M369.0 76.2l11.5 11.5m0 -11.5l-11.5 11.5M393.2 73.8l11.5 11.5m0 -11.5l-11.5 11.5M399.2 81.0l11.5 11.5m0 -11.5l-11.5 11.5M364.2 100.2l11.5 11.5m0 -11.5l-11.5 11.5M364.8 107.2l11.5 11.5m0 -11.5l-11.5 11.5M377.2 103.2l11.5 11.5m0 -11.5l-11.5 11.5M368.2 115.2l11.5 11.5m0 -11.5l-11.5 11.5M362.8 122.2l11.5 11.5m0 -11.5l-11.5 11.5M387.2 110.8l11.5 11.5m0 -11.5l-11.5 11.5M387.2 124.2l11.5 11.5m0 -11.5l-11.5 11.5M403.2 102.2l11.5 11.5m0 -11.5l-11.5 11.5M403.2 111.2l11.5 11.5m0 -11.5l-11.5 11.5M401.2 117.2l11.5 11.5m0 -11.5l-11.5 11.5M412.2 116.2l11.5 11.5m0 -11.5l-11.5 11.5M415.8 122.8l11.5 11.5m0 -11.5l-11.5 11.5M399.2 152.2l11.5 11.5m0 -11.5l-11.5 11.5M409.8 147.2l11.5 11.5m0 -11.5l-11.5 11.5" stroke="#ff0000" stroke-width="3.9" fill="none"/>
<g fill="#ff0000" fill-opacity="0.5"><rect x="0.0" y="127.0" width="113.7" height="26.5"/><rect x="111.5" y="133.8" width="12.3" height="19.7"/><rect x="0.0" y="153.2" width="436.0" height="4.0"/><rect x="0.0" y="153.5" width="227.8" height="104.5"/><rect x="0.0" y="158.3" width="227.8" height="2.2"/><rect x="223.8" y="157.2" width="4.0" height="100.8"/><rect x="227.8" y="171.1" width="22.1" height="86.9"/><rect x="247.0" y="179.7" width="189.0" height="78.3"/><rect x="128.3" y="255.0" width="307.7" height="38.0"/><rect x="117.0" y="255.5" width="14.8" height="19.3"/><rect x="0.0" y="250.8" width="224.0" height="1.0"/></g>
<line x1="-21.80" y1="262.18" x2="457.80" y2="86.73" stroke="#008000" stroke-width="5.4"/>
</g>
<rect x="316.3" y="258.3" width="115.2" height="30.5" rx="2" ry="2" fill="#ffffff" fill-opacity="0.8" stroke="#c4c4c4" stroke-opacity="0.9" stroke-width="2"/>
<path d="M324.1 260.9l11.5 11.5m0 -11.5l-11.5 11.5" stroke="#808080" stroke-width="3.9" fill="none"/>
<path d="M324.1 274.2l11.5 11.5m0 -11.5l-11.5 11.5" stroke="#ff0000" stroke-width="3.9" fill="none"/>
<text x="346.2" y="268.9" font-size="9.2" font-family="DejaVu Sans, Liberation Sans, sans-serif">class 0 (nominal)</text>
<text x="346.2" y="281.5" font-size="9.2" font-family="DejaVu Sans, Liberation Sans, sans-serif">class 1 (anomaly)</text>
<rect x="0.00" y="0" width="436.00" height="293" fill="none" stroke="#000" stroke-width="2"/>
<path d="M57.0 293v8.2M139.0 293v8.2M221.0 293v8.2M304.0 293v8.2M386.0 293v8.2M0.00 260.0h-8.2M0.00 203.0h-8.2M0.00 147.0h-8.2M0.00 90.0h-8.2M0.00 34.0h-8.2" stroke="#000" stroke-width="2" fill="none"/>
<text x="57.0" y="325.9" text-anchor="middle" font-size="22.6" font-family="DejaVu Sans, Liberation Sans, sans-serif">−2</text>
<text x="139.0" y="325.9" text-anchor="middle" font-size="22.6" font-family="DejaVu Sans, Liberation Sans, sans-serif">0</text>
<text x="221.0" y="325.9" text-anchor="middle" font-size="22.6" font-family="DejaVu Sans, Liberation Sans, sans-serif">2</text>
<text x="304.0" y="325.9" text-anchor="middle" font-size="22.6" font-family="DejaVu Sans, Liberation Sans, sans-serif">4</text>
<text x="386.0" y="325.9" text-anchor="middle" font-size="22.6" font-family="DejaVu Sans, Liberation Sans, sans-serif">6</text>
<text x="-15.7" y="268.7" text-anchor="end" font-size="22.6" font-family="DejaVu Sans, Liberation Sans, sans-serif">−2</text>
<text x="-15.7" y="211.7" text-anchor="end" font-size="22.6" font-family="DejaVu Sans, Liberation Sans, sans-serif">0</text>
<text x="-15.7" y="155.7" text-anchor="end" font-size="22.6" font-family="DejaVu Sans, Liberation Sans, sans-serif">2</text>
<text x="-15.7" y="98.7" text-anchor="end" font-size="22.6" font-family="DejaVu Sans, Liberation Sans, sans-serif">4</text>
<text x="-15.7" y="42.7" text-anchor="end" font-size="22.6" font-family="DejaVu Sans, Liberation Sans, sans-serif">6</text>
<text x="218.0" y="-14.3" text-anchor="middle" font-size="18.4" font-family="DejaVu Sans, Liberation Sans, sans-serif">Ensemble member 0</text>
</g>
<g transform="translate(570.6,33)">
<g clip-path="url(#clip)">
<path d="M200.3 87.3l11.5 11.5m0 -11.5l-11.5 11.5M235.7 120.3l11.5 11.5m0 -11.5l-11.5 11.5M156.0 142.1l11.5 11.5m0 -11.5l-11.5 11.5M242.6 125.1l11.5 11.5m0 -11.5l-11.5 11.5M197.8 189.5l11.5 11.5m0 -11.5l-11.5 11.5M176.5 153.4l11.5 11.5m0 -11.5l-11.5 11.5M252.9 121.3l11.5 11.5m0 -11.5l-11.5 11.5M259.8 129.8l11.5 11.5m0 -11.5l-11.5 11.5M198.7 154.1l11.5 11.5m0 -11.5l-11.5 11.5M221.9 110.2l11.5 11.5m0 -11.5l-11.5 11.5M187.0 152.3l11.5 11.5m0 -11.5l-11.5 11.5M216.1 180.4l11.5 11.5m0 -11.5l-11.5 11.5M171.7 139.2l11.5 11.5m0 -11.5l-11.5 11.5M152.9 166.7l11.5 11.5m0 -11.5l-11.5 11.5M243.1 134.2l11.5 11.5m0 -11.5l-11.5 11.5M225.4 166.1l11.5 11.5m0 -11.5l-11.5 11.5M156.4 171.9l11.5 11.5m0 -11.5l-11.5 11.5M210.7 166.8l11.5 11.5m0 -11.5l-11.5 11.5M159.8 133.1l11.5 11.5m0 -11.5l-11.5 11.5M192.8 127.9l11.5 11.5m0 -11.5l-11.5 11.5M206.2 199.9l11.5 11.5m0 -11.5l-11.5 11.5M175.7 99.8l11.5 11.5m0 -11.5l-11.5 11.5M185.2 138.6l11.5 11.5m0 -11.5l-11.5 11.5M244.6 104.5l11.5 11.5m0 -11.5l-11.5 11.5M207.9 151.1l11.5 11.5m0 -11.5l-11.5 11.5M232.3 159.0l11.5 11.5m0 -11.5l-11.5 11.5M211.8 125.4l11.5 11.5m0 -11.5l-11.5 11.5M163.6 161.5l11.5 11.5m0 -11.5l-11.5 11.5M181.1 89.1l11.5 11.5m0 -11.5l-11.5 11.5M248.8 87.0l11.5 11.5m0 -11.5l-11.5 11.5M188.4 117.5l11.5 11.5m0 -11.5l-11.5 11.5M207.1 83.0l11.5 11.5m0 -11.5l-11.5 11.5M224.1 138.4l11.5 11.5m0 -11.5l-11.5 11.5M203.5 104.8l11.5 11.5m0 -11.5l-11.5 11.5M234.4 86.7l11.5 11.5m0 -11.5l-11.5 11.5M189.9 120.5l11.5 11.5m0 -11.5l-11.5 11.5M174.2 182.7l11.5 11.5m0 -11.5l-11.5 11.5M201.3 98.4l11.5 11.5m0 -11.5l-11.5 11.5M184.1 143.6l11.5 11.5m0 -11.5l-11.5 11.5M189.6 170.5l11.5 11.5m0 -11.5l-11.5 11.5M305.6 120.1l11.5 11.5m0 -11.5l-11.5 11.5M183.1 99.0l11.5 11.5m0 -11.5l-11.5 11.5M179.1 95.5l11.5 11.5m0 -11.5l-11.5 11.5M160.5 165.6l11.5 11.5m0 -11.5l-11.5 11.5M176.1 185.3l11.5 11.5m0 -11.5l-11.5 11.5M201.8 187.1l11.5 11.5m0 -11.5l-11.5 11.5M308.4 124.9l11.5 11.5m0 -11.5l-11.5 11.5M204.8 148.4l11.5 11.5m0 -11.5l-11.5 11.5M188.3 109.1l11.5 11.5m0 -11.5l-11.5 11.5M186.4 154.2l11.5 11.5m0 -11.5l-11.5 11.5M189.6 128.5l11.5 11.5m0 -11.5l-11.5 11.5M205.3 134.5l11.5 11.5m0 -11.5l-11.5 11.5M230.0 145.8l11.5 11.5m0 -11.5l-11.5 11.5M219.7 92.3l11.5 11.5m0 -11.5l-11.5 11.5M175.1 136.9l11.5 11.5m0 -11.5l-11.5 11.5M200.7 143.7l11.5 11.5m0 -11.5l-11.5 11.5M164.0 150.2l11.5 11.5m0 -11.5l-11.5 11.5M187.8 106.7l11.5 11.5m0 -11.5l-11.5 11.5M248.5 141.8l11.5 11.5m0 -11.5l-11.5 11.5M231.8 170.5l11.5 11.5m0 -11.5l-11.5 11.5M221.8 146.0l11.5 11.5m0 -11.5l-11.5 11.5M166.6 132.0l11.5 11.5m0 -11.5l-11.5 11.5M158.5 166.9l11.5 11.5m0 -11.5l-11.5 11.5M172.1 174.1l11.5 11.5m0 -11.5l-11.5 11.5M212.8 139.0l11.5 11.5m0 -11.5l-11.5 11.5M173.3 130.4l11.5 11.5m0 -11.5l-11.5 11.5M232.3 116.2l11.5 11.5m0 -11.5l-11.5 11.5M179.0 113.1l11.5 11.5m0 -11.5l-11.5 11.5M238.7 131.8l11.5 11.5m0 -11.5l-11.5 11.5M191.4 84.0l11.5 11.5m0 -11.5l-11.5 11.5M261.1 129.5l11.5 11.5m0 -11.5l-11.5 11.5M222.0 116.2l11.5 11.5m0 -11.5l-11.5 11.5M191.0 84.0l11.5 11.5m0 -11.5l-11.5 11.5M234.2 100.8l11.5 11.5m0 -11.5l-11.5 11.5M198.4 111.0l11.5 11.5m0 -11.5l-11.5 11.5M229.7 91.5l11.5 11.5m0 -11.5l-11.5 11.5M177.9 137.0l11.5 11.5m0 -11.5l-11.5 11.5M211.9 141.9l11.5 11.5m0 -11.5l-11.5 11.5M203.5 191.9l11.5 11.5m0 -11.5l-11.5 11.5M213.8 117.5l11.5 11.5m0 -11.5l-11.5 11.5M158.1 177.9l11.5 11.5m0 -11.5l-11.5 11.5M189.0 89.2l11.5 11.5m0 -11.5l-11.5 11.5M193.3 101.3l11.5 11.5m0 -11.5l-11.5 11.5M195.2 134.7l11.5 11.5m0 -11.5l-11.5 11.5M172.6 132.6l11.5 11.5m0 -11.5l-11.5 11.5M190.2 211.8l11.5 11.5m0 -11.5l-11.5 11.5M187.1 212.4l11.5 11.5m0 -11.5l-11.5 11.5M198.0 118.9l11.5 11.5m0 -11.5l-11.5 11.5M225.5 141.3l11.5 11.5m0 -11.5l-11.5 11.5M179.8 141.6l11.5 11.5m0 -11.5l-11.5 11.5M197.1 99.9l11.5 11.5m0 -11.5l-11.5 11.5M244.0 145.4l11.5 11.5m0 -11.5l-11.5 11.5M211.3 114.2l11.5 11.5m0 -11.5l-11.5 11.5M169.6 144.6l11.5 11.5m0 -11.5l-11.5 11.5M168.5 119.5l11.5 11.5m0 -11.5l-11.5 11.5M239.5 160.5l11.5 11.5m0 -11.5l-11.5 11.5M227.9 64.7l11.5 11.5m0 -11.5l-11.5 11.5M230.2 146.3l11.5 11.5m0 -11.5l-11.5 11.5M228.7 122.9l11.5 11.5m0 -11.5l-11.5 11.5M226.2 169.1l11.5 11.5m0 -11.5l-11.5 11.5M259.0 108.8l11.5 11.5m0 -11.5l-11.5 11.5M232.5 135.5l11.5 11.5m0 -11.5l-11.5 11.5M224.1 82.3l11.5 11.5m0 -11.5l-11.5 11.5M221.3 105.4l11.5 11.5m0 -11.5l-11.5 11.5M181.5 153.4l11.5 11.5m0 -11.5l-11.5 11.5M170.0 144.6l11.5 11.5m0 -11.5l-11.5 11.5M184.9 202.0l11.5 11.5m0 -11.5l-11.5 11.5M227.4 68.0l11.5 11.5m0 -11.5l-11.5 11.5M221.5 110.5l11.5 11.5m0 -11.5l-11.5 11.5M169.8 117.0l11.5 11.5m0 -11.5l-11.5 11.5M199.0 193.2l11.5 11.5m0 -11.5l-11.5 11.5M208.4 124.5l11.5 11.5m0 -11.5l-11.5 11.5M206.5 129.9l11.5 11.5m0 -11.5l-11.5 11.5M192.2 71.6l11.5 11.5m0 -11.5l-11.5 11.5M194.0 207.8l11.5 11.5m0 -11.5l-11.5 11.5M187.9 105.0l11.5 11.5m0 -11.5l-11.5 11.5M231.6 93.3l11.5 11.5m0 -11.5l-11.5 11.5M194.1 71.7l11.5 11.5m0 -11.5l-11.5 11.5M225.1 116.9l11.5 11.5m0 -11.5l-11.5 11.5M196.0 177.6l11.5 11.5m0 -11.5l-11.5 11.5M255.7 110.3l11.5 11.5m0 -11.5l-11.5 11.5M239.3 124.7l11.5 11.5m0 -11.5l-11.5 11.5M229.2 97.9l11.5 11.5m0 -11.5l-11.5 11.5M221.4 85.6l11.5 11.5m0 -11.5l-11.5 11.5M203.4 78.1l11.5 11.5m0 -11.5l-11.5 11.5M186.2 103.8l11.5 11.5m0 -11.5l-11.5 11.5M271.4 127.5l11.5 11.5m0 -11.5l-11.5 11.5M215.4 144.6l11.5 11.5m0 -11.5l-11.5 11.5M209.2 116.1l11.5 11.5m0 -11.5l-11.5 11.5M230.3 160.8l11.5 11.5m0 -11.5l-11.5 11.5M191.5 102.3l11.5 11.5m0 -11.5l-11.5 11.5M213.0 132.6l11.5 11.5m0 -11.5l-11.5 11.5M151.7 173.1l11.5 11.5m0 -11.5l-11.5 11.5M233.5 168.9l11.5 11.5m0 -11.5l-11.5 11.5M222.6 148.8l11.5 11.5m0 -11.5l-11.5 11.5M185.1 205.4l11.5 11.5m0 -11.5l-11.5 11.5M254.0 110.8l11.5 11.5m0 -11.5l-11.5 11.5M233.8 153.6l11.5 11.5m0 -11.5l-11.5 11.5M211.1 98.5l11.5 11.5m0 -11.5l-11.5 11.5M196.6 134.9l11.5 11.5m0 -11.5l-11.5 11.5M185.5 102.1l11.5 11.5m0 -11.5l-11.5 11.5M229.4 167.7l11.5 11.5m0 -11.5l-11.5 11.5M216.4 103.7l11.5 11.5m0 -11.5l-11.5 11.5M202.7 128.7l11.5 11.5m0 -11.5l-11.5 11.5M230.5 95.7l11.5 11.5m0 -11.5l-11.5 11.5M183.3 180.9l11.5 11.5m0 -11.5l-11.5 11.5M195.5 210.3l11.5 11.5m0 -11.5l-11.5 11.5M229.0 92.9l11.5 11.5m0 -11.5l-11.5 11.5M183.6 128.2l11.5 11.5m0 -11.5l-11.5 11.5M170.7 124.6l11.5 11.5m0 -11.5l-11.5 11.5M257.2 122.3l11.5 11.5m0 -11.5l-11.5 11.5M208.7 115.1l11.5 11.5m0 -11.5l-11.5 11.5M193.0 118.1l11.5 11.5m0 -11.5l-11.5 11.5M205.8 190.3l11.5 11.5m0 -11.5l-11.5 11.5M154.5 136.8l11.5 11.5m0 -11.5l-11.5 11.5M178.5 120.1l11.5 11.5m0 -11.5l-11.5 11.5M214.8 188.8l11.5 11.5m0 -11.5l-11.5 11.5M202.9 106.0l11.5 11.5m0 -11.5l-11.5 11.5M190.1 174.2l11.5 11.5m0 -11.5l-11.5 11.5M199.1 106.5l11.5 11.5m0 -11.5l-11.5 11.5M185.3 137.1l11.5 11.5m0 -11.5l-11.5 11.5M210.8 102.7l11.5 11.5m0 -11.5l-11.5 11.5M218.0 139.9l11.5 11.5m0 -11.5l-11.5 11.5M247.6 114.5l11.5 11.5m0 -11.5l-11.5 11.5M199.6 119.7l11.5 11.5m0 -11.5l-11.5 11.5M179.2 179.7l11.5 11.5m0 -11.5l-11.5 11.5M187.6 74.1l11.5 11.5m0 -11.5l-11.5 11.5M152.0 149.0l11.5 11.5m0 -11.5l-11.5 11.5M200.7 214.7l11.5 11.5m0 -11.5l-11.5 11.5M190.5 77.1l11.5 11.5m0 -11.5l-11.5 11.5M162.4 140.7l11.5 11.5m0 -11.5l-11.5 11.5M264.7 132.8l11.5 11.5m0 -11.5l-11.5 11.5M185.4 128.2l11.5 11.5m0 -11.5l-11.5 11.5M240.9 121.4l11.5 11.5m0 -11.5l-11.5 11.5M187.6 101.8l11.5 11.5m0 -11.5l-11.5 11.5M242.8 114.3l11.5 11.5m0 -11.5l-11.5 11.5M230.9 99.7l11.5 11.5m0 -11.5l-11.5 11.5M301.5 121.3l11.5 11.5m0 -11.5l-11.5 11.5M189.7 183.6l11.5 11.5m0 -11.5l-11.5 11.5M182.6 120.8l11.5 11.5m0 -11.5l-11.5 11.5M188.8 156.2l11.5 11.5m0 -11.5l-11.5 11.5M255.0 95.4l11.5 11.5m0 -11.5l-11.5 11.5M198.4 95.4l11.5 11.5m0 -11.5l-11.5 11.5M212.3 148.6l11.5 11.5m0 -11.5l-11.5 11.5M173.6 170.9l11.5 11.5m0 -11.5l-11.5 11.5M214.7 107.7l11.5 11.5m0 -11.5l-11.5 11.5M197.6 210.5l11.5 11.5m0 -11.5l-11.5 11.5M198.4 151.1l11.5 11.5m0 -11.5l-11.5 11.5M205.9 128.1l11.5 11.5m0 -11.5l-11.5 11.5M207.0 94.4l11.5 11.5m0 -11.5l-11.5 11.5M223.2 89.1l11.5 11.5m0 -11.5l-11.5 11.5M161.2 159.7l11.5 11.5m0 -11.5l-11.5 11.5M208.2 141.6l11.5 11.5m0 -11.5l-11.5 11.5M164.5 139.5l11.5 11.5m0 -11.5l-11.5 11.5M226.8 72.4l11.5 11.5m0 -11.5l-11.5 11.5M300.8 123.7l11.5 11.5m0 -11.5l-11.5 11.5M182.7 125.5l11.5 11.5m0 -11.5l-11.5 11.5M232.7 123.0l11.5 11.5m0 -11.5l-11.5 11.5M153.2 150.5l11.5 11.5m0 -11.5l-11.5 11.5M250.9 111.2l11.5 11.5m0 -11.5l-11.5 11.5M216.4 153.6l11.5 11.5m0 -11.5l-11.5 11.5M217.3 165.3l11.5 11.5m0 -11.5l-11.5 11.5M220.8 131.5l11.5 11.5m0 -11.5l-11.5 11.5M150.2 159.2l11.5 11.5m0 -11.5l-11.5 11.5M228.0 100.3l11.5 11.5m0 -11.5l-11.5 11.5M222.8 91.7l11.5 11.5m0 -11.5l-11.5 11.5M225.3 80.6l11.5 11.5m0 -11.5l-11.5 11.5M167.7 130.3l11.5 11.5m0 -11.5l-11.5 11.5M161.6 132.0l11.5 11.5m0 -11.5l-11.5 11.5M231.4 70.4l11.5 11.5m0 -11.5l-11.5 11.5M231.6 72.5l11.5 11.5m0 -11.5l-11.5 11.5M230.4 122.2l11.5 11.5m0 -11.5l-11.5 11.5M181.1 104.5l11.5 11.5m0 -11.5l-11.5 11.5M230.7 113.1l11.5 11.5m0 -11.5l-11.5 11.5M174.5 184.7l11.5 11.5m0 -11.5l-11.5 11.5M165.5 145.6l11.5 11.5m0 -11.5l-11.5 11.5M252.5 119.4l11.5 11.5m0 -11.5l-11.5 11.5M251.4 124.7l11.5 11.5m0 -11.5l-11.5 11.5M206.4 181.5l11.5 11.5m0 -11.5l-11.5 11.5M220.1 91.3l11.5 11.5m0 -11.5l-11.5 11.5M249.1 130.5l11.5 11.5m0 -11.5l-11.5 11.5M183.7 153.8l11.5 11.5m0 -11.5l-11.5 11.5M244.6 95.5l11.5 11.5m0 -11.5l-11.5 11.5M250.4 137.1l11.5 11.5m0 -11.5l-11.5 11.5M187.0 87.1l11.5 11.5m0 -11.5l-11.5 11.5M162.3 162.1l11.5 11.5m0 -11.5l-11.5 11.5M213.4 104.7l11.5 11.5m0 -11.5l-11.5 11.5M148.2 163.2l11.5 11.5m0 -11.5l-11.5 11.5M240.1 117.9l11.5 11.5m0 -11.5l-11.5 11.5M254.0 132.3l11.5 11.5m0 -11.5l-11.5 11.5M187.8 202.9l11.5 11.5m0 -11.5l-11.5 11.5M153.7 145.8l11.5 11.5m0 -11.5l-11.5 11.5M214.0 100.6l11.5 11.5m0 -11.5l-11.5 11.5M179.6 157.5l11.5 11.5m0 -11.5l-11.5 11.5M230.9 162.7l11.5 11.5m0 -11.5l-11.5 11.5M197.9 110.3l11.5 11.5m0 -11.5l-11.5 11.5M184.0 80.3l11.5 11.5m0 -11.5l-11.5 11.5M202.3 179.2l11.5 11.5m0 -11.5l-11.5 11.5M238.7 131.1l11.5 11.5m0 -11.5l-11.5 11.5M190.6 162.7l11.5 11.5m0 -11.5l-11.5 11.5M189.8 100.4l11.5 11.5m0 -11.5l-11.5 11.5M293.1 114.6l11.5 11.5m0 -11.5l-11.5 11.5M186.2 203.5l11.5 11.5m0 -11.5l-11.5 11.5M219.3 175.4l11.5 11.5m0 -11.5l-11.5 11.5M241.5 111.4l11.5 11.5m0 -11.5l-11.5 11.5M181.7 159.7l11.5 11.5m0 -11.5l-11.5 11.5M203.8 85.9l11.5 11.5m0 -11.5l-11.5 11.5M157.3 154.8l11.5 11.5m0 -11.5l-11.5 11.5M206.9 189.7l11.5 11.5m0 -11.5l-11.5 11.5M251.7 108.3l11.5 11.5m0 -11.5l-11.5 11.5M199.6 129.2l11.5 11.5m0 -11.5l-11.5 11.5M193.5 174.0l11.5 11.5m0 -11.5l-11.5 11.5M207.7 113.4l11.5 11.5m0 -11.5l-11.5 11.5M219.1 182.8l11.5 11.5m0 -11.5l-11.5 11.5M204.2 172.3l11.5 11.5m0 -11.5l-11.5 11.5M236.0 97.4l11.5 11.5m0 -11.5l-11.5 11.5M228.3 186.5l11.5 11.5m0 -11.5l-11.5 11.5M177.1 140.1l11.5 11.5m0 -11.5l-11.5 11.5M204.2 191.9l11.5 11.5m0 -11.5l-11.5 11.5M189.8 209.1l11.5 11.5m0 -11.5l-11.5 11.5M193.6 97.1l11.5 11.5m0 -11.5l-11.5 11.5M164.7 161.9l11.5 11.5m0 -11.5l-11.5 11.5M159.8 185.1l11.5 11.5m0 -11.5l-11.5 11.5M86.3 72.2l11.5 11.5m0 -11.5l-11.5 11.5M285.0 5.3l11.5 11.5m0 -11.5l-11.5 11.5M284.3 22.3l11.5 11.5m0 -11.5l-11.5 11.5M390.4 -5.1l11.5 11.5m0 -11.5l-11.5 11.5M373.1 31.9l11.5 11.5m0 -11.5l-11.5 11.5M383.0 43.7l11.5 11.5m0 -11.5l-11.5 11.5M362.3 89.4l11.5 11.5m0 -11.5l-11.5 11.5M429.5 68.0l11.5 11.5m0 -11.5l-11.5 11.5M115.8 136.7l11.5 11.5m0 -11.5l-11.5 11.5M132.0 135.2l11.5 11.5m0 -11.5l-11.5 11.5M101.0 167.7l11.5 11.5m0 -11.5l-11.5 11.5M95.1 173.6l11.5 11.5m0 -11.5l-11.5 11.5M115.8 175.1l11.5 11.5m0 -11.5l-11.5 11.5M121.7 150.0l11.5 11.5m0 -11.5l-11.5 11.5M126.1 160.3l11.5 11.5m0 -11.5l-11.5 11.5M132.0 145.5l11.5 11.5m0 -11.5l-11.5 11.5M137.9 138.2l11.5 11.5m0 -11.5l-11.5 11.5M140.9 152.9l11.5 11.5m0 -11.5l-11.5 11.5M133.5 167.7l11.5 11.5m0 -11.5l-11.5 11.5M126.1 178.0l11.5 11.5m0 -11.5l-11.5 11.5M241.9 220.4l11.5 11.5m0 -11.5l-11.5 11.5M230.4 235.9l11.5 11.5m0 -11.5l-11.5 11.5M225.9 241.1l11.5 11.5m0 -11.5l-11.5 11.5M238.9 244.1l11.5 11.5m0 -11.5l-11.5 11.5M185.0 240.8l11.5 11.5m0 -11.5l-11.5 11.5M185.3 278.8l11.5 11.5m0 -11.5l-11.5 11.5M150.6 255.9l11.5 11.5m0 -11.5l-11.5 11.5M147.7 227.8l11.5 11.5m0 -11.5l-11.5 11.5M149.2 210.1l11.5 11.5m0 -11.5l-11.5 11.5M165.1 223.4l11.5 11.5m0 -11.5l-11.5 11.5M165.4 210.1l11.5 11.5m0 -11.5l-11.5 11.5M174.3 211.6l11.5 11.5m0 -11.5l-11.5 11.5M186.1 221.2l11.5 11.5m0 -11.5l-11.5 11.5M202.3 224.1l11.5 11.5m0 -11.5l-11.5 11.5M193.4 213.1l11.5 11.5m0 -11.5l-11.5 11.5M205.3 207.2l11.5 11.5m0 -11.5l-11.5 11.5M187.5 205.7l11.5 11.5m0 -11.5l-11.5 11.5M197.9 205.7l11.5 11.5m0 -11.5l-11.5 11.5M362.8 89.8l11.5 11.5m0 -11.5l-11.5 11.5M275.1 37.1l11.5 11.5m0 -11.5l-11.5 11.5M299.1 43.1l11.5 11.5m0 -11.5l-11.5 11.5M247.5 53.3l11.5 11.5m0 -11.5l-11.5 11.5M259.5 51.5l11.5 11.5m0 -11.5l-11.5 11.5M276.9 53.3l11.5 11.5m0 -11.5l-11.5 11.5M288.3 58.1l11.5 11.5m0 -11.5l-11.5 11.5M262.5 62.3l11.5 11.5m0 -11.5l-11.5 11.5M303.9 54.5l11.5 11.5m0 -11.5l-11.5 11.5M308.1 61.7l11.5 11.5m0 -11.5l-11.5 11.5M322.5 47.9l11.5 11.5m0 -11.5l-11.5 11.5M326.1 49.1l11.5 11.5m0 -11.5l-11.5 11.5M328.5 51.5l11.5 11.5m0 -11.5l-11.5 11.5M350.1 50.3l11.5 11.5m0 -11.5l-11.5 11.5M314.1 71.3l11.5 11.5m0 -11.5l-11.5 11.5M320.1 71.3l11.5 11.5m0 -11.5l-11.5 11.5M340.5 76.1l11.5 11.5m0 -11.5l-11.5 11.5M341.1 80.3l11.5 11.5m0 -11.5l-11.5 11.5M334.5 89.3l11.5 11.5m0 -11.5l-11.5 11.5M286.5 73.1l11.5 11.5m0 -11.5l-11.5 11.5M292.5 75.5l11.5 11.5m0 -11.5l-11.5 11.5M297.3 76.7l11.5 11.5m0 -11.5l-11.5 11.5M264.9 71.9l11.5 11.5m0 -11.5l-11.5 11.5M269.7 76.7l11.5 11.5m0 -11.5l-11.5 11.5M263.7 82.7l11.5 11.5m0 -11.5l-11.5 11.5M272.1 83.9l11.5 11.5m0 -11.5l-11.5 11.5M261.3 89.9l11.5 11.5m0 -11.5l-11.5 11.5M243.3 85.1l11.5 11.5m0 -11.5l-11.5 11.5M238.5 82.7l11.5 11.5m0 -11.5l-11.5 11.5M240.9 94.7l11.5 11.5m0 -11.5l-11.5 11.5M249.3 99.5l11.5 11.5m0 -11.5l-11.5 11.5M257.7 104.3l11.5 11.5m0 -11.5l-11.5 11.5M255.3 113.9l11.5 11.5m0 -11.5l-11.5 11.5M245.7 113.9l11.5 11.5m0 -11.5l-11.5 11.5M294.9 94.7l11.5 11.5m0 -11.5l-11.5 11.5M298.5 97.1l11.5 11.5m0 -11.5l-11.5 11.5M290.1 104.3l11.5 11.5m0 -11.5l-11.5 11.5M291.3 110.3l11.5 11.5m0 -11.5l-11.5 11.5M278.1 113.9l11.5 11.5m0 -11.5l-11.5 11.5M284.1 116.3l11.5 11.5m0 -11.5l-11.5 11.5M300.9 115.1l11.5 11.5m0 -11.5l-11.5 11.5M306.9 116.3l11.5 11.5m0 -11.5l-11.5 11.5M324.9 105.5l11.5 11.5m0 -11.5l-11.5 11.5M320.1 111.5l11.5 11.5m0 -11.5l-11.5 11.5M317.7 116.3l11.5 11.5m0 -11.5l-11.5 11.5M328.5 103.1l11.5 11.5m0 -11.5l-11.5 11.5M236.1 73.1l11.5 11.5m0 -11.5l-11.5 11.5M275.7 68.3l11.5 11.5m0 -11.5l-11.5 11.5M280.5 80.3l11.5 11.5m0 -11.5l-11.5 11.5M204.6 42.5l11.5 11.5m0 -11.5l-11.5 11.5M203.1 55.7l11.5 11.5m0 -11.5l-11.5 11.5M188.7 68.9l11.5 11.5m0 -11.5l-11.5 11.5M189.3 73.1l11.5 11.5m0 -11.5l-11.5 11.5M131.7 91.1l11.5 11.5m0 -11.5l-11.5 11.5M156.9 78.5l11.5 11.5m0 -11.5l-11.5 11.5M152.1 86.3l11.5 11.5m0 -11.5l-11.5 11.5M168.9 85.1l11.5 11.5m0 -11.5l-11.5 11.5M176.1 83.9l11.5 11.5m0 -11.5l-11.5 11.5M154.5 93.5l11.5 11.5m0 -11.5l-11.5 11.5M136.5 112.7l11.5 11.5m0 -11.5l-11.5 11.5M146.1 105.5l11.5 11.5m0 -11.5l-11.5 11.5M149.7 110.3l11.5 11.5m0 -11.5l-11.5 11.5M154.5 115.1l11.5 11.5m0 -11.5l-11.5 11.5M118.5 111.5l11.5 11.5m0 -11.5l-11.5 11.5M165.3 110.3l11.5 11.5m0 -11.5l-11.5 11.5M171.3 115.1l11.5 11.5m0 -11.5l-11.5 11.5M197.7 80.3l11.5 11.5m0 -11.5l-11.5 11.5M224.1 67.1l11.5 11.5m0 -11.5l-11.5 11.5M220.5 73.1l11.5 11.5m0 -11.5l-11.5 11.5M228.9 71.9l11.5 11.5m0 -11.5l-11.5 11.5M209.7 82.7l11.5 11.5m0 -11.5l-11.5 11.5M203.7 77.9l11.5 11.5m0 -11.5l-11.5 11.5M329.1 130.1l11.5 11.5m0 -11.5l-11.5 11.5M294.9 143.9l11.5 11.5m0 -11.5l-11.5 11.5M288.3 159.5l11.5 11.5m0 -11.5l-11.5 11.5M292.5 166.7l11.5 11.5m0 -11.5l-11.5 11.5M293.7 172.7l11.5 11.5m0 -11.5l-11.5 11.5M266.1 178.1l11.5 11.5m0 -11.5l-11.5 11.5M267.3 184.7l11.5 11.5m0 -11.5l-11.5 11.5M251.7 204.5l11.5 11.5m0 -11.5l-11.5 11.5M238.5 177.5l11.5 11.5m0 -11.5l-11.5 11.5M274.5 134.3l11.5 11.5m0 -11.5l-11.5 11.5M249.3 133.1l11.5 11.5m0 -11.5l-11.5 11.5M268.5 146.3l11.5 11.5m0 -11.5l-11.5 11.5M278.1 147.5l11.5 11.5m0 -11.5l-11.5 11.5M250.5 147.5l11.5 11.5m0 -11.5l-11.5 11.5M257.7 158.3l11.5 11.5m0 -11.5l-11.5 11.5M243.3 158.3l11.5 11.5m0 -11.5l-11.5 11.5M240.9 143.9l11.5 11.5m0 -11.5l-11.5 11.5M237.3 167.9l11.5 11.5m0 -11.5l-11.5 11.5M246.9 161.9l11.5 11.5m0 -11.5l-11.5 11.5M245.7 123.5l11.5 11.5m0 -11.5l-11.5 11.5M257.7 124.7l11.5 11.5m0 -11.5l-11.5 11.5M269.7 124.1l11.5 11.5m0 -11.5l-11.5 11.5M281.7 125.9l11.5 11.5m0 -11.5l-11.5 11.5M293.7 125.3l11.5 11.5m0 -11.5l-11.5 11.5M305.7 125.3l11.5 11.5m0 -11.5l-11.5 11.5M311.7 124.7l11.5 11.5m0 -11.5l-11.5 11.5M41.7 128.3l11.5 11.5m0 -11.5l-11.5 11.5M61.8 122.3l11.5 11.5m0 -11.5l-11.5 11.5M80.7 130.1l11.5 11.5m0 -11.5l-11.5 11.5M47.7 154.1l11.5 11.5m0 -11.5l-11.5 11.5M64.7 157.9l11.5 11.5m0 -11.5l-11.5 11.5M74.3 103.1l11.5 11.5m0 -11.5l-11.5 11.5M76.5 108.5l11.5 11.5m0 -11.5l-11.5 11.5M93.9 100.7l11.5 11.5m0 -11.5l-11.5 11.5M90.9 112.1l11.5 11.5m0 -11.5l-11.5 11.5M95.7 121.7l11.5 11.5m0 -11.5l-11.5 11.5M100.5 86.3l11.5 11.5m0 -11.5l-11.5 11.5M88.5 161.3l11.5 11.5m0 -11.5l-11.5 11.5M93.3 145.7l11.5 11.5m0 -11.5l-11.5 11.5M101.7 137.3l11.5 11.5m0 -11.5l-11.5 11.5M105.3 144.5l11.5 11.5m0 -11.5l-11.5 11.5M108.9 151.7l11.5 11.5m0 -11.5l-11.5 11.5M101.7 160.1l11.5 11.5m0 -11.5l-11.5 11.5M111.3 127.7l11.5 11.5m0 -11.5l-11.5 11.5M108.9 161.3l11.5 11.5m0 -11.5l-11.5 11.5M56.1 186.8l11.5 11.5m0 -11.5l-11.5 11.5M39.1 199.4l11.5 11.5m0 -11.5l-11.5 11.5M54.5 210.9l11.5 11.5m0 -11.5l-11.5 11.5M83.0 191.3l11.5 11.5m0 -11.5l-11.5 11.5M80.8 180.2l11.5 11.5m0 -11.5l-11.5 11.5M95.5 181.7l11.5 11.5m0 -11.5l-11.5 11.5M100.0 180.2l11.5 11.5m0 -11.5l-11.5 11.5M111.8 183.2l11.5 11.5m0 -11.5l-11.5 11.5M113.2 189.8l11.5 11.5m0 -11.5l-11.5 11.5M101.4 201.6l11.5 11.5m0 -11.5l-11.5 11.5M95.5 206.8l11.5 11.5m0 -11.5l-11.5 11.5M88.1 213.4l11.5 11.5m0 -11.5l-11.5 11.5M111.8 208.3l11.5 11.5m0 -11.5l-11.5 11.5M117.7 217.1l11.5 11.5m0 -11.5l-11.5 11.5M68.2 228.2l11.5 11.5m0 -11.5l-11.5 11.5M77.8 228.2l11.5 11.5m0 -11.5l-11.5 11.5M88.1 227.4l11.5 11.5m0 -11.5l-11.5 11.5M97.0 226.0l11.5 11.5m0 -11.5l-11.5 11.5M104.4 223.0l11.5 11.5m0 -11.5l-11.5 11.5M111.8 227.4l11.5 11.5m0 -11.5l-11.5 11.5M119.1 226.0l11.5 11.5m0 -11.5l-11.5 11.5M105.9 233.4l11.5 11.5m0 -11.5l-11.5 11.5M114.7 234.8l11.5 11.5m0 -11.5l-11.5 11.5M63.0 244.4l11.5 11.5m0 -11.5l-11.5 11.5M36.0 251.1l11.5 11.5m0 -11.5l-11.5 11.5M39.9 251.1l11.5 11.5m0 -11.5l-11.5 11.5M82.2 250.3l11.5 11.5m0 -11.5l-11.5 11.5M97.0 242.2l11.5 11.5m0 -11.5l-11.5 11.5M98.5 248.1l11.5 11.5m0 -11.5l-11.5 11.5M89.6 257.0l11.5 11.5m0 -11.5l-11.5 11.5M97.0 259.9l11.5 11.5m0 -11.5l-11.5 11.5M105.9 257.0l11.5 11.5m0 -11.5l-11.5 11.5M116.2 255.5l11.5 11.5m0 -11.5l-11.5 11.5M104.4 267.3l11.5 11.5m0 -11.5l-11.5 11.5M108.8 270.3l11.5 11.5m0 -11.5l-11.5 11.5M101.4 277.6l11.5 11.5m0 -11.5l-11.5 11.5M120.6 277.6l11.5 11.5m0 -11.5l-11.5 11.5M54.5 277.6l11.5 11.5m0 -11.5l-11.5 11.5M-5.6 286.2l11.5 11.5m0 -11.5l-11.5 11.5M125.1 197.9l11.5 11.5m0 -11.5l-11.5 11.5M129.5 211.2l11.5 11.5m0 -11.5l-11.5 11.5M126.5 221.5l11.5 11.5m0 -11.5l-11.5 11.5M133.9 226.0l11.5 11.5m0 -11.5l-11.5 11.5M126.5 239.3l11.5 11.5m0 -11.5l-11.5 11.5M132.4 246.6l11.5 11.5m0 -11.5l-11.5 11.5M135.4 233.4l11.5 11.5m0 -11.5l-11.5 11.5M138.3 259.9l11.5 11.5m0 -11.5l-11.5 11.5M125.1 248.1l11.5 11.5m0 -11.5l-11.5 11.5M123.6 186.1l11.5 11.5m0 -11.5l-11.5 11.5M132.4 186.1l11.5 11.5m0 -11.5l-11.5 11.5M139.8 195.0l11.5 11.5m0 -11.5l-11.5 11.5M141.3 209.7l11.5 11.5m0 -11.5l-11.5 11.5M136.9 218.6l11.5 11.5m0 -11.5l-11.5 11.5M289.7 88.9l11.5 11.5m0 -11.5l-11.5 11.5M254.2 80.2l11.5 11.5m0 -11.5l-11.5 11.5M292.8 117.2l11.5 11.5m0 -11.5l-11.5 11.5M286.7 98.3l11.5 11.5m0 -11.5l-11.5 11.5M258.0 72.3l11.5 11.5m0 -11.5l-11.5 11.5M280.0 90.6l11.5 11.5m0 -11.5l-11.5 11.5M253.8 87.6l11.5 11.5m0 -11.5l-11.5 11.5M284.4 108.8l11.5 11.5m0 -11.5l-11.5 11.5M287.4 80.6l11.5 11.5m0 -11.5l-11.5 11.5M147.8 134.5l11.5 11.5m0 -11.5l-11.5 11.5M154.9 189.0l11.5 11.5m0 -11.5l-11.5 11.5M100.1 192.4l11.5 11.5m0 -11.5l-11.5 11.5M146.6 179.2l11.5 11.5m0 -11.5l-11.5 11.5M143.3 125.7l11.5 11.5m0 -11.5l-11.5 11.5M150.5 143.4l11.5 11.5m0 -11.5l-11.5 11.5M175.8 196.4l11.5 11.5m0 -11.5l-11.5 11.5M164.1 196.2l11.5 11.5m0 -11.5l-11.5 11.5M155.4 219.7l11.5 11.5m0 -11.5l-11.5 11.5M79.0 169.5l11.5 11.5m0 -11.5l-11.5 11.5M150.1 197.7l11.5 11.5m0 -11.5l-11.5 11.5M130.8 124.5l11.5 11.5m0 -11.5l-11.5 11.5M156.4 125.9l11.5 11.5m0 -11.5l-11.5 11.5M120.4 125.0l11.5 11.5m0 -11.5l-11.5 11.5M145.9 170.1l11.5 11.5m0 -11.5l-11.5 11.5M88.2 137.7l11.5 11.5m0 -11.5l-11.5 11.5M104.6 118.7l11.5 11.5m0 -11.5l-11.5 11.5M157.3 204.8l11.5 11.5m0 -11.5l-11.5 11.5M136.7 177.6l11.5 11.5m0 -11.5l-11.5 11.5M117.4 165.0l11.5 11.5m0 -11.5l-11.5 11.5M277.1 123.1l11.5 11.5m0 -11.5l-11.5 11.5M272.4 129.5l11.5 11.5m0 -11.5l-11.5 11.5M299.5 123.3l11.5 11.5m0 -11.5l-11.5 11.5M286.3 126.7l11.5 11.5m0 -11.5l-11.5 11.5M303.4 120.4l11.5 11.5m0 -11.5l-11.5 11.5M288.0 119.2l11.5 11.5m0 -11.5l-11.5 11.5M273.3 120.7l11.5 11.5m0 -11.5l-11.5 11.5M279.5 118.5l11.5 11.5m0 -11.5l-11.5 11.5M298.8 128.2l11.5 11.5m0 -11.5l-11.5 11.5M311.7 120.1l11.5 11.5m0 -11.5l-11.5 11.5M288.0 113.6l11.5 11.5m0 -11.5l-11.5 11.5M270.8 115.7l11.5 11.5m0 -11.5l-11.5 11.5M297.6 118.4l11.5 11.5m0 -11.5l-11.5 11.5M279.2 130.0l11.5 11.5m0 -11.5l-11.5 11.5M290.3 129.3l11.5 11.5m0 -11.5l-11.5 11.5M283.8 121.2l11.5 11.5m0 -11.5l-11.5 11.5" stroke="#808080" stroke-width="3.9" fill="none"/>
<path d="M126.9 46.2l11.5 11.5m0 -11.5l-11.5 11.5M137.6 62.1l11.5 11.5m0 -11.5l-11.5 11.5M105.5 70.2l11.5 11.5m0 -11.5l-11.5 11.5M105.8 80.9l11.5 11.5m0 -11.5l-11.5 11.5M114.0 79.8l11.5 11.5m0 -11.5l-11.5 11.5M111.4 93.1l11.5 11.5m0 -11.5l-11.5 11.5M155.1 -3.6l11.5 11.5m0 -11.5l-11.5 11.5M146.2 7.5l11.5 11.5m0 -11.5l-11.5 11.5M154.3 13.4l11.5 11.5m0 -11.5l-11.5 11.5M146.2 34.1l11.5 11.5m0 -11.5l-11.5 11.5M191.2 31.1l11.5 11.5m0 -11.5l-11.5 11.5M166.9 69.5l11.5 11.5m0 -11.5l-11.5 11.5M147.7 93.1l11.5 11.5m0 -11.5l-11.5 11.5M169.1 99.8l11.5 11.5m0 -11.5l-11.5 11.5M411.1 48.1l11.5 11.5m0 -11.5l-11.5 11.5M105.2 114.5l11.5 11.5m0 -11.5l-11.5 11.5M330.3 149.2l11.5 11.5m0 -11.5l-11.5 11.5M299.6 186.6l11.5 11.5m0 -11.5l-11.5 11.5M369.0 76.2l11.5 11.5m0 -11.5l-11.5 11.5M393.2 73.8l11.5 11.5m0 -11.5l-11.5 11.5M399.2 81.0l11.5 11.5m0 -11.5l-11.5 11.5M364.2 100.2l11.5 11.5m0 -11.5l-11.5 11.5M364.8 107.2l11.5 11.5m0 -11.5l-11.5 11.5M377.2 103.2l11.5 11.5m0 -11.5l-11.5 11.5M368.2 115.2l11.5 11.5m0 -11.5l-11.5 11.5M362.8 122.2l11.5 11.5m0 -11.5l-11.5 11.5M387.2 110.8l11.5 11.5m0 -11.5l-11.5 11.5M387.2 124.2l11.5 11.5m0 -11.5l-11.5 11.5M403.2 102.2l11.5 11.5m0 -11.5l-11.5 11.5M403.2 111.2l11.5 11.5m0 -11.5l-11.5 11.5M401.2 117.2l11.5 11.5m0 -11.5l-11.5 11.5M412.2 116.2l11.5 11.5m0 -11.5l-11.5 11.5M415.8 122.8l11.5 11.5m0 -11.5l-11.5 11.5M399.2 152.2l11.5 11.5m0 -11.5l-11.5 11.5M409.8 147.2l11.5 11.5m0 -11.5l-11.5 11.5" stroke="#ff0000" stroke-width="3.9" fill="none"/>
<g fill="#ff0000" fill-opacity="0.5"><rect x="0.0" y="249.1" width="436.4" height="4.9"/><rect x="19.4" y="255.0" width="101.4" height="38.0"/><rect x="122.7" y="255.0" width="8.5" height="38.0"/></g>
<line x1="38.58" y1="307.65" x2="349.12" y2="-14.65" stroke="#008000" stroke-width="5.4"/>
</g>
<rect x="316.3" y="258.3" width="115.2" height="30.5" rx="2" ry="2" fill="#ffffff" fill-opacity="0.8" stroke="#c4c4c4" stroke-opacity="0.9" stroke-width="2"/>
<path d="M324.1 260.9l11.5 11.5m0 -11.5l-11.5 11.5" stroke="#808080" stroke-width="3.9" fill="none"/>
<path d="M324.1 274.2l11.5 11.5m0 -11.5l-11.5 11.5" stroke="#ff0000" stroke-width="3.9" fill="none"/>
<text x="346.2" y="268.9" font-size="9.2" font-family="DejaVu Sans, Liberation Sans, sans-serif">class 0 (nominal)</text>
<text x="346.2" y="281.5" font-size="9.2" font-family="DejaVu Sans, Liberation Sans, sans-serif">class 1 (anomaly)</text>
<rect x="0.40" y="0" width="435.00" height="293" fill="none" stroke="#000" stroke-width="2"/>
<path d="M57.4 293v8.2M139.4 293v8.2M221.4 293v8.2M304.4 293v8.2M386.4 293v8.2M0.40 260.0h-8.2M0.40 203.0h-8.2M0.40 147.0h-8.2M0.40 90.0h-8.2M0.40 34.0h-8.2" stroke="#000" stroke-width="2" fill="none"/>
<text x="57.4" y="325.9" text-anchor="middle" font-size="22.6" font-family="DejaVu Sans, Liberation Sans, sans-serif">−2</text>
<text x="139.4" y="325.9" text-anchor="middle" font-size="22.6" font-family="DejaVu Sans, Liberation Sans, sans-serif">0</text>
<text x="221.4" y="325.9" text-anchor="middle" font-size="22.6" font-family="DejaVu Sans, Liberation Sans, sans-serif">2</text>
<text x="304.4" y="325.9" text-anchor="middle" font-size="22.6" font-family="DejaVu Sans, Liberation Sans, sans-serif">4</text>
<text x="386.4" y="325.9" text-anchor="middle" font-size="22.6" font-family="DejaVu Sans, Liberation Sans, sans-serif">6</text>
<text x="-15.3" y="268.7" text-anchor="end" font-size="22.6" font-family="DejaVu Sans, Liberation Sans, sans-serif">−2</text>
<text x="-15.3" y="211.7" text-anchor="end" font-size="22.6" font-family="DejaVu Sans, Liberation Sans, sans-serif">0</text>
<text x="-15.3" y="155.7" text-anchor="end" font-size="22.6" font-family="DejaVu Sans, Liberation Sans, sans-serif">2</text>
<text x="-15.3" y="98.7" text-anchor="end" font-size="22.6" font-family="DejaVu Sans, Liberation Sans, sans-serif">4</text>
<text x="-15.3" y="42.7" text-anchor="end" font-size="22.6" font-family="DejaVu Sans, Liberation Sans, sans-serif">6</text>
<text x="218.0" y="-14.3" text-anchor="middle" font-size="18.4" font-family="DejaVu Sans, Liberation Sans, sans-serif">Ensemble member 1</text>
</g>
<g transform="translate(55,417)">
<g clip-path="url(#clip)">
<path d="M200.3 87.3l11.5 11.5m0 -11.5l-11.5 11.5M235.7 120.3l11.5 11.5m0 -11.5l-11.5 11.5M156.0 142.1l11.5 11.5m0 -11.5l-11.5 11.5M242.6 125.1l11.5 11.5m0 -11.5l-11.5 11.5M197.8 189.5l11.5 11.5m0 -11.5l-11.5 11.5M176.5 153.4l11.5 11.5m0 -11.5l-11.5 11.5M252.9 121.3l11.5 11.5m0 -11.5l-11.5 11.5M259.8 129.8l11.5 11.5m0 -11.5l-11.5 11.5M198.7 154.1l11.5 11.5m0 -11.5l-11.5 11.5M221.9 110.2l11.5 11.5m0 -11.5l-11.5 11.5M187.0 152.3l11.5 11.5m0 -11.5l-11.5 11.5M216.1 180.4l11.5 11.5m0 -11.5l-11.5 11.5M171.7 139.2l11.5 11.5m0 -11.5l-11.5 11.5M152.9 166.7l11.5 11.5m0 -11.5l-11.5 11.5M243.1 134.2l11.5 11.5m0 -11.5l-11.5 11.5M225.4 166.1l11.5 11.5m0 -11.5l-11.5 11.5M156.4 171.9l11.5 11.5m0 -11.5l-11.5 11.5M210.7 166.8l11.5 11.5m0 -11.5l-11.5 11.5M159.8 133.1l11.5 11.5m0 -11.5l-11.5 11.5M192.8 127.9l11.5 11.5m0 -11.5l-11.5 11.5M206.2 199.9l11.5 11.5m0 -11.5l-11.5 11.5M175.7 99.8l11.5 11.5m0 -11.5l-11.5 11.5M185.2 138.6l11.5 11.5m0 -11.5l-11.5 11.5M244.6 104.5l11.5 11.5m0 -11.5l-11.5 11.5M207.9 151.1l11.5 11.5m0 -11.5l-11.5 11.5M232.3 159.0l11.5 11.5m0 -11.5l-11.5 11.5M211.8 125.4l11.5 11.5m0 -11.5l-11.5 11.5M163.6 161.5l11.5 11.5m0 -11.5l-11.5 11.5M181.1 89.1l11.5 11.5m0 -11.5l-11.5 11.5M248.8 87.0l11.5 11.5m0 -11.5l-11.5 11.5M188.4 117.5l11.5 11.5m0 -11.5l-11.5 11.5M207.1 83.0l11.5 11.5m0 -11.5l-11.5 11.5M224.1 138.4l11.5 11.5m0 -11.5l-11.5 11.5M203.5 104.8l11.5 11.5m0 -11.5l-11.5 11.5M234.4 86.7l11.5 11.5m0 -11.5l-11.5 11.5M189.9 120.5l11.5 11.5m0 -11.5l-11.5 11.5M174.2 182.7l11.5 11.5m0 -11.5l-11.5 11.5M201.3 98.4l11.5 11.5m0 -11.5l-11.5 11.5M184.1 143.6l11.5 11.5m0 -11.5l-11.5 11.5M189.6 170.5l11.5 11.5m0 -11.5l-11.5 11.5M305.6 120.1l11.5 11.5m0 -11.5l-11.5 11.5M183.1 99.0l11.5 11.5m0 -11.5l-11.5 11.5M179.1 95.5l11.5 11.5m0 -11.5l-11.5 11.5M160.5 165.6l11.5 11.5m0 -11.5l-11.5 11.5M176.1 185.3l11.5 11.5m0 -11.5l-11.5 11.5M201.8 187.1l11.5 11.5m0 -11.5l-11.5 11.5M308.4 124.9l11.5 11.5m0 -11.5l-11.5 11.5M204.8 148.4l11.5 11.5m0 -11.5l-11.5 11.5M188.3 109.1l11.5 11.5m0 -11.5l-11.5 11.5M186.4 154.2l11.5 11.5m0 -11.5l-11.5 11.5M189.6 128.5l11.5 11.5m0 -11.5l-11.5 11.5M205.3 134.5l11.5 11.5m0 -11.5l-11.5 11.5M230.0 145.8l11.5 11.5m0 -11.5l-11.5 11.5M219.7 92.3l11.5 11.5m0 -11.5l-11.5 11.5M175.1 136.9l11.5 11.5m0 -11.5l-11.5 11.5M200.7 143.7l11.5 11.5m0 -11.5l-11.5 11.5M164.0 150.2l11.5 11.5m0 -11.5l-11.5 11.5M187.8 106.7l11.5 11.5m0 -11.5l-11.5 11.5M248.5 141.8l11.5 11.5m0 -11.5l-11.5 11.5M231.8 170.5l11.5 11.5m0 -11.5l-11.5 11.5M221.8 146.0l11.5 11.5m0 -11.5l-11.5 11.5M166.6 132.0l11.5 11.5m0 -11.5l-11.5 11.5M158.5 166.9l11.5 11.5m0 -11.5l-11.5 11.5M172.1 174.1l11.5 11.5m0 -11.5l-11.5 11.5M212.8 139.0l11.5 11.5m0 -11.5l-11.5 11.5M173.3 130.4l11.5 11.5m0 -11.5l-11.5 11.5M232.3 116.2l11.5 11.5m0 -11.5l-11.5 11.5M179.0 113.1l11.5 11.5m0 -11.5l-11.5 11.5M238.7 131.8l11.5 11.5m0 -11.5l-11.5 11.5M191.4 84.0l11.5 11.5m0 -11.5l-11.5 11.5M261.1 129.5l11.5 11.5m0 -11.5l-11.5 11.5M222.0 116.2l11.5 11.5m0 -11.5l-11.5 11.5M191.0 84.0l11.5 11.5m0 -11.5l-11.5 11.5M234.2 100.8l11.5 11.5m0 -11.5l-11.5 11.5M198.4 111.0l11.5 11.5m0 -11.5l-11.5 11.5M229.7 91.5l11.5 11.5m0 -11.5l-11.5 11.5M177.9 137.0l11.5 11.5m0 -11.5l-11.5 11.5M211.9 141.9l11.5 11.5m0 -11.5l-11.5 11.5M203.5 191.9l11.5 11.5m0 -11.5l-11.5 11.5M213.8 117.5l11.5 11.5m0 -11.5l-11.5 11.5M158.1 177.9l11.5 11.5m0 -11.5l-11.5 11.5M189.0 89.2l11.5 11.5m0 -11.5l-11.5 11.5M193.3 101.3l11.5 11.5m0 -11.5l-11.5 11.5M195.2 134.7l11.5 11.5m0 -11.5l-11.5 11.5M172.6 132.6l11.5 11.5m0 -11.5l-11.5 11.5M190.2 211.8l11.5 11.5m0 -11.5l-11.5 11.5M187.1 212.4l11.5 11.5m0 -11.5l-11.5 11.5M198.0 118.9l11.5 11.5m0 -11.5l-11.5 11.5M225.5 141.3l11.5 11.5m0 -11.5l-11.5 11.5M179.8 141.6l11.5 11.5m0 -11.5l-11.5 11.5M197.1 99.9l11.5 11.5m0 -11.5l-11.5 11.5M244.0 145.4l11.5 11.5m0 -11.5l-11.5 11.5M211.3 114.2l11.5 11.5m0 -11.5l-11.5 11.5M169.6 144.6l11.5 11.5m0 -11.5l-11.5 11.5M168.5 119.5l11.5 11.5m0 -11.5l-11.5 11.5M239.5 160.5l11.5 11.5m0 -11.5l-11.5 11.5M227.9 64.7l11.5 11.5m0 -11.5l-11.5 11.5M230.2 146.3l11.5 11.5m0 -11.5l-11.5 11.5M228.7 122.9l11.5 11.5m0 -11.5l-11.5 11.5M226.2 169.1l11.5 11.5m0 -11.5l-11.5 11.5M259.0 108.8l11.5 11.5m0 -11.5l-11.5 11.5M232.5 135.5l11.5 11.5m0 -11.5l-11.5 11.5M224.1 82.3l11.5 11.5m0 -11.5l-11.5 11.5M221.3 105.4l11.5 11.5m0 -11.5l-11.5 11.5M181.5 153.4l11.5 11.5m0 -11.5l-11.5 11.5M170.0 144.6l11.5 11.5m0 -11.5l-11.5 11.5M184.9 202.0l11.5 11.5m0 -11.5l-11.5 11.5M227.4 68.0l11.5 11.5m0 -11.5l-11.5 11.5M221.5 110.5l11.5 11.5m0 -11.5l-11.5 11.5M169.8 117.0l11.5 11.5m0 -11.5l-11.5 11.5M199.0 193.2l11.5 11.5m0 -11.5l-11.5 11.5M208.4 124.5l11.5 11.5m0 -11.5l-11.5 11.5M206.5 129.9l11.5 11.5m0 -11.5l-11.5 11.5M192.2 71.6l11.5 11.5m0 -11.5l-11.5 11.5M194.0 207.8l11.5 11.5m0 -11.5l-11.5 11.5M187.9 105.0l11.5 11.5m0 -11.5l-11.5 11.5M231.6 93.3l11.5 11.5m0 -11.5l-11.5 11.5M194.1 71.7l11.5 11.5m0 -11.5l-11.5 11.5M225.1 116.9l11.5 11.5m0 -11.5l-11.5 11.5M196.0 177.6l11.5 11.5m0 -11.5l-11.5 11.5M255.7 110.3l11.5 11.5m0 -11.5l-11.5 11.5M239.3 124.7l11.5 11.5m0 -11.5l-11.5 11.5M229.2 97.9l11.5 11.5m0 -11.5l-11.5 11.5M221.4 85.6l11.5 11.5m0 -11.5l-11.5 11.5M203.4 78.1l11.5 11.5m0 -11.5l-11.5 11.5M186.2 103.8l11.5 11.5m0 -11.5l-11.5 11.5M271.4 127.5l11.5 11.5m0 -11.5l-11.5 11.5M215.4 144.6l11.5 11.5m0 -11.5l-11.5 11.5M209.2 116.1l11.5 11.5m0 -11.5l-11.5 11.5M230.3 160.8l11.5 11.5m0 -11.5l-11.5 11.5M191.5 102.3l11.5 11.5m0 -11.5l-11.5 11.5M213.0 132.6l11.5 11.5m0 -11.5l-11.5 11.5M151.7 173.1l11.5 11.5m0 -11.5l-11.5 11.5M233.5 168.9l11.5 11.5m0 -11.5l-11.5 11.5M222.6 148.8l11.5 11.5m0 -11.5l-11.5 11.5M185.1 205.4l11.5 11.5m0 -11.5l-11.5 11.5M254.0 110.8l11.5 11.5m0 -11.5l-11.5 11.5M233.8 153.6l11.5 11.5m0 -11.5l-11.5 11.5M211.1 98.5l11.5 11.5m0 -11.5l-11.5 11.5M196.6 134.9l11.5 11.5m0 -11.5l-11.5 11.5M185.5 102.1l11.5 11.5m0 -11.5l-11.5 11.5M229.4 167.7l11.5 11.5m0 -11.5l-11.5 11.5M216.4 103.7l11.5 11.5m0 -11.5l-11.5 11.5M202.7 128.7l11.5 11.5m0 -11.5l-11.5 11.5M230.5 95.7l11.5 11.5m0 -11.5l-11.5 11.5M183.3 180.9l11.5 11.5m0 -11.5l-11.5 11.5M195.5 210.3l11.5 11.5m0 -11.5l-11.5 11.5M229.0 92.9l11.5 11.5m0 -11.5l-11.5 11.5M183.6 128.2l11.5 11.5m0 -11.5l-11.5 11.5M170.7 124.6l11.5 11.5m0 -11.5l-11.5 11.5M257.2 122.3l11.5 11.5m0 -11.5l-11.5 11.5M208.7 115.1l11.5 11.5m0 -11.5l-11.5 11.5M193.0 118.1l11.5 11.5m0 -11.5l-11.5 11.5M205.8 190.3l11.5 11.5m0 -11.5l-11.5 11.5M154.5 136.8l11.5 11.5m0 -11.5l-11.5 11.5M178.5 120.1l11.5 11.5m0 -11.5l-11.5 11.5M214.8 188.8l11.5 11.5m0 -11.5l-11.5 11.5M202.9 106.0l11.5 11.5m0 -11.5l-11.5 11.5M190.1 174.2l11.5 11.5m0 -11.5l-11.5 11.5M199.1 106.5l11.5 11.5m0 -11.5l-11.5 11.5M185.3 137.1l11.5 11.5m0 -11.5l-11.5 11.5M210.8 102.7l11.5 11.5m0 -11.5l-11.5 11.5M218.0 139.9l11.5 11.5m0 -11.5l-11.5 11.5M247.6 114.5l11.5 11.5m0 -11.5l-11.5 11.5M199.6 119.7l11.5 11.5m0 -11.5l-11.5 11.5M179.2 179.7l11.5 11.5m0 -11.5l-11.5 11.5M187.6 74.1l11.5 11.5m0 -11.5l-11.5 11.5M152.0 149.0l11.5 11.5m0 -11.5l-11.5 11.5M200.7 214.7l11.5 11.5m0 -11.5l-11.5 11.5M190.5 77.1l11.5 11.5m0 -11.5l-11.5 11.5M162.4 140.7l11.5 11.5m0 -11.5l-11.5 11.5M264.7 132.8l11.5 11.5m0 -11.5l-11.5 11.5M185.4 128.2l11.5 11.5m0 -11.5l-11.5 11.5M240.9 121.4l11.5 11.5m0 -11.5l-11.5 11.5M187.6 101.8l11.5 11.5m0 -11.5l-11.5 11.5M242.8 114.3l11.5 11.5m0 -11.5l-11.5 11.5M230.9 99.7l11.5 11.5m0 -11.5l-11.5 11.5M301.5 121.3l11.5 11.5m0 -11.5l-11.5 11.5M189.7 183.6l11.5 11.5m0 -11.5l-11.5 11.5M182.6 120.8l11.5 11.5m0 -11.5l-11.5 11.5M188.8 156.2l11.5 11.5m0 -11.5l-11.5 11.5M255.0 95.4l11.5 11.5m0 -11.5l-11.5 11.5M198.4 95.4l11.5 11.5m0 -11.5l-11.5 11.5M212.3 148.6l11.5 11.5m0 -11.5l-11.5 11.5M173.6 170.9l11.5 11.5m0 -11.5l-11.5 11.5M214.7 107.7l11.5 11.5m0 -11.5l-11.5 11.5M197.6 210.5l11.5 11.5m0 -11.5l-11.5 11.5M198.4 151.1l11.5 11.5m0 -11.5l-11.5 11.5M205.9 128.1l11.5 11.5m0 -11.5l-11.5 11.5M207.0 94.4l11.5 11.5m0 -11.5l-11.5 11.5M223.2 89.1l11.5 11.5m0 -11.5l-11.5 11.5M161.2 159.7l11.5 11.5m0 -11.5l-11.5 11.5M208.2 141.6l11.5 11.5m0 -11.5l-11.5 11.5M164.5 139.5l11.5 11.5m0 -11.5l-11.5 11.5M226.8 72.4l11.5 11.5m0 -11.5l-11.5 11.5M300.8 123.7l11.5 11.5m0 -11.5l-11.5 11.5M182.7 125.5l11.5 11.5m0 -11.5l-11.5 11.5M232.7 123.0l11.5 11.5m0 -11.5l-11.5 11.5M153.2 150.5l11.5 11.5m0 -11.5l-11.5 11.5M250.9 111.2l11.5 11.5m0 -11.5l-11.5 11.5M216.4 153.6l11.5 11.5m0 -11.5l-11.5 11.5M217.3 165.3l11.5 11.5m0 -11.5l-11.5 11.5M220.8 131.5l11.5 11.5m0 -11.5l-11.5 11.5M150.2 159.2l11.5 11.5m0 -11.5l-11.5 11.5M228.0 100.3l11.5 11.5m0 -11.5l-11.5 11.5M222.8 91.7l11.5 11.5m0 -11.5l-11.5 11.5M225.3 80.6l11.5 11.5m0 -11.5l-11.5 11.5M167.7 130.3l11.5 11.5m0 -11.5l-11.5 11.5M161.6 132.0l11.5 11.5m0 -11.5l-11.5 11.5M231.4 70.4l11.5 11.5m0 -11.5l-11.5 11.5M231.6 72.5l11.5 11.5m0 -11.5l-11.5 11.5M230.4 122.2l11.5 11.5m0 -11.5l-11.5 11.5M181.1 104.5l11.5 11.5m0 -11.5l-11.5 11.5M230.7 113.1l11.5 11.5m0 -11.5l-11.5 11.5M174.5 184.7l11.5 11.5m0 -11.5l-11.5 11.5M165.5 145.6l11.5 11.5m0 -11.5l-11.5 11.5M252.5 119.4l11.5 11.5m0 -11.5l-11.5 11.5M251.4 124.7l11.5 11.5m0 -11.5l-11.5 11.5M206.4 181.5l11.5 11.5m0 -11.5l-11.5 11.5M220.1 91.3l11.5 11.5m0 -11.5l-11.5 11.5M249.1 130.5l11.5 11.5m0 -11.5l-11.5 11.5M183.7 153.8l11.5 11.5m0 -11.5l-11.5 11.5M244.6 95.5l11.5 11.5m0 -11.5l-11.5 11.5M250.4 137.1l11.5 11.5m0 -11.5l-11.5 11.5M187.0 87.1l11.5 11.5m0 -11.5l-11.5 11.5M162.3 162.1l11.5 11.5m0 -11.5l-11.5 11.5M213.4 104.7l11.5 11.5m0 -11.5l-11.5 11.5M148.2 163.2l11.5 11.5m0 -11.5l-11.5 11.5M240.1 117.9l11.5 11.5m0 -11.5l-11.5 11.5M254.0 132.3l11.5 11.5m0 -11.5l-11.5 11.5M187.8 202.9l11.5 11.5m0 -11.5l-11.5 11.5M153.7 145.8l11.5 11.5m0 -11.5l-11.5 11.5M214.0 100.6l11.5 11.5m0 -11.5l-11.5 11.5M179.6 157.5l11.5 11.5m0 -11.5l-11.5 11.5M230.9 162.7l11.5 11.5m0 -11.5l-11.5 11.5M197.9 110.3l11.5 11.5m0 -11.5l-11.5 11.5M184.0 80.3l11.5 11.5m0 -11.5l-11.5 11.5M202.3 179.2l11.5 11.5m0 -11.5l-11.5 11.5M238.7 131.1l11.5 11.5m0 -11.5l-11.5 11.5M190.6 162.7l11.5 11.5m0 -11.5l-11.5 11.5M189.8 100.4l11.5 11.5m0 -11.5l-11.5 11.5M293.1 114.6l11.5 11.5m0 -11.5l-11.5 11.5M186.2 203.5l11.5 11.5m0 -11.5l-11.5 11.5M219.3 175.4l11.5 11.5m0 -11.5l-11.5 11.5M241.5 111.4l11.5 11.5m0 -11.5l-11.5 11.5M181.7 159.7l11.5 11.5m0 -11.5l-11.5 11.5M203.8 85.9l11.5 11.5m0 -11.5l-11.5 11.5M157.3 154.8l11.5 11.5m0 -11.5l-11.5 11.5M206.9 189.7l11.5 11.5m0 -11.5l-11.5 11.5M251.7 108.3l11.5 11.5m0 -11.5l-11.5 11.5M199.6 129.2l11.5 11.5m0 -11.5l-11.5 11.5M193.5 174.0l11.5 11.5m0 -11.5l-11.5 11.5M207.7 113.4l11.5 11.5m0 -11.5l-11.5 11.5M219.1 182.8l11.5 11.5m0 -11.5l-11.5 11.5M204.2 172.3l11.5 11.5m0 -11.5l-11.5 11.5M236.0 97.4l11.5 11.5m0 -11.5l-11.5 11.5M228.3 186.5l11.5 11.5m0 -11.5l-11.5 11.5M177.1 140.1l11.5 11.5m0 -11.5l-11.5 11.5M204.2 191.9l11.5 11.5m0 -11.5l-11.5 11.5M189.8 209.1l11.5 11.5m0 -11.5l-11.5 11.5M193.6 97.1l11.5 11.5m0 -11.5l-11.5 11.5M164.7 161.9l11.5 11.5m0 -11.5l-11.5 11.5M159.8 185.1l11.5 11.5m0 -11.5l-11.5 11.5M86.3 72.2l11.5 11.5m0 -11.5l-11.5 11.5M285.0 5.3l11.5 11.5m0 -11.5l-11.5 11.5M284.3 22.3l11.5 11.5m0 -11.5l-11.5 11.5M390.4 -5.1l11.5 11.5m0 -11.5l-11.5 11.5M373.1 31.9l11.5 11.5m0 -11.5l-11.5 11.5M383.0 43.7l11.5 11.5m0 -11.5l-11.5 11.5M362.3 89.4l11.5 11.5m0 -11.5l-11.5 11.5M429.5 68.0l11.5 11.5m0 -11.5l-11.5 11.5M115.8 136.7l11.5 11.5m0 -11.5l-11.5 11.5M132.0 135.2l11.5 11.5m0 -11.5l-11.5 11.5M101.0 167.7l11.5 11.5m0 -11.5l-11.5 11.5M95.1 173.6l11.5 11.5m0 -11.5l-11.5 11.5M115.8 175.1l11.5 11.5m0 -11.5l-11.5 11.5M121.7 150.0l11.5 11.5m0 -11.5l-11.5 11.5M126.1 160.3l11.5 11.5m0 -11.5l-11.5 11.5M132.0 145.5l11.5 11.5m0 -11.5l-11.5 11.5M137.9 138.2l11.5 11.5m0 -11.5l-11.5 11.5M140.9 152.9l11.5 11.5m0 -11.5l-11.5 11.5M133.5 167.7l11.5 11.5m0 -11.5l-11.5 11.5M126.1 178.0l11.5 11.5m0 -11.5l-11.5 11.5M241.9 220.4l11.5 11.5m0 -11.5l-11.5 11.5M230.4 235.9l11.5 11.5m0 -11.5l-11.5 11.5M225.9 241.1l11.5 11.5m0 -11.5l-11.5 11.5M238.9 244.1l11.5 11.5m0 -11.5l-11.5 11.5M185.0 240.8l11.5 11.5m0 -11.5l-11.5 11.5M185.3 278.8l11.5 11.5m0 -11.5l-11.5 11.5M150.6 255.9l11.5 11.5m0 -11.5l-11.5 11.5M147.7 227.8l11.5 11.5m0 -11.5l-11.5 11.5M149.2 210.1l11.5 11.5m0 -11.5l-11.5 11.5M165.1 223.4l11.5 11.5m0 -11.5l-11.5 11.5M165.4 210.1l11.5 11.5m0 -11.5l-11.5 11.5M174.3 211.6l11.5 11.5m0 -11.5l-11.5 11.5M186.1 221.2l11.5 11.5m0 -11.5l-11.5 11.5M202.3 224.1l11.5 11.5m0 -11.5l-11.5 11.5M193.4 213.1l11.5 11.5m0 -11.5l-11.5 11.5M205.3 207.2l11.5 11.5m0 -11.5l-11.5 11.5M187.5 205.7l11.5 11.5m0 -11.5l-11.5 11.5M197.9 205.7l11.5 11.5m0 -11.5l-11.5 11.5M362.8 89.8l11.5 11.5m0 -11.5l-11.5 11.5M275.1 37.1l11.5 11.5m0 -11.5l-11.5 11.5M299.1 43.1l11.5 11.5m0 -11.5l-11.5 11.5M247.5 53.3l11.5 11.5m0 -11.5l-11.5 11.5M259.5 51.5l11.5 11.5m0 -11.5l-11.5 11.5M276.9 53.3l11.5 11.5m0 -11.5l-11.5 11.5M288.3 58.1l11.5 11.5m0 -11.5l-11.5 11.5M262.5 62.3l11.5 11.5m0 -11.5l-11.5 11.5M303.9 54.5l11.5 11.5m0 -11.5l-11.5 11.5M308.1 61.7l11.5 11.5m0 -11.5l-11.5 11.5M322.5 47.9l11.5 11.5m0 -11.5l-11.5 11.5M326.1 49.1l11.5 11.5m0 -11.5l-11.5 11.5M328.5 51.5l11.5 11.5m0 -11.5l-11.5 11.5M350.1 50.3l11.5 11.5m0 -11.5l-11.5 11.5M314.1 71.3l11.5 11.5m0 -11.5l-11.5 11.5M320.1 71.3l11.5 11.5m0 -11.5l-11.5 11.5M340.5 76.1l11.5 11.5m0 -11.5l-11.5 11.5M341.1 80.3l11.5 11.5m0 -11.5l-11.5 11.5M334.5 89.3l11.5 11.5m0 -11.5l-11.5 11.5M286.5 73.1l11.5 11.5m0 -11.5l-11.5 11.5M292.5 75.5l11.5 11.5m0 -11.5l-11.5 11.5M297.3 76.7l11.5 11.5m0 -11.5l-11.5 11.5M264.9 71.9l11.5 11.5m0 -11.5l-11.5 11.5M269.7 76.7l11.5 11.5m0 -11.5l-11.5 11.5M263.7 82.7l11.5 11.5m0 -11.5l-11.5 11.5M272.1 83.9l11.5 11.5m0 -11.5l-11.5 11.5M261.3 89.9l11.5 11.5m0 -11.5l-11.5 11.5M243.3 85.1l11.5 11.5m0 -11.5l-11.5 11.5M238.5 82.7l11.5 11.5m0 -11.5l-11.5 11.5M240.9 94.7l11.5 11.5m0 -11.5l-11.5 11.5M249.3 99.5l11.5 11.5m0 -11.5l-11.5 11.5M257.7 104.3l11.5 11.5m0 -11.5l-11.5 11.5M255.3 113.9l11.5 11.5m0 -11.5l-11.5 11.5M245.7 113.9l11.5 11.5m0 -11.5l-11.5 11.5M294.9 94.7l11.5 11.5m0 -11.5l-11.5 11.5M298.5 97.1l11.5 11.5m0 -11.5l-11.5 11.5M290.1 104.3l11.5 11.5m0 -11.5l-11.5 11.5M291.3 110.3l11.5 11.5m0 -11.5l-11.5 11.5M278.1 113.9l11.5 11.5m0 -11.5l-11.5 11.5M284.1 116.3l11.5 11.5m0 -11.5l-11.5 11.5M300.9 115.1l11.5 11.5m0 -11.5l-11.5 11.5M306.9 116.3l11.5 11.5m0 -11.5l-11.5 11.5M324.9 105.5l11.5 11.5m0 -11.5l-11.5 11.5M320.1 111.5l11.5 11.5m0 -11.5l-11.5 11.5M317.7 116.3l11.5 11.5m0 -11.5l-11.5 11.5M328.5 103.1l11.5 11.5m0 -11.5l-11.5 11.5M236.1 73.1l11.5 11.5m0 -11.5l-11.5 11.5M275.7 68.3l11.5 11.5m0 -11.5l-11.5 11.5M280.5 80.3l11.5 11.5m0 -11.5l-11.5 11.5M204.6 42.5l11.5 11.5m0 -11.5l-11.5 11.5M203.1 55.7l11.5 11.5m0 -11.5l-11.5 11.5M188.7 68.9l11.5 11.5m0 -11.5l-11.5 11.5M189.3 73.1l11.5 11.5m0 -11.5l-11.5 11.5M131.7 91.1l11.5 11.5m0 -11.5l-11.5 11.5M156.9 78.5l11.5 11.5m0 -11.5l-11.5 11.5M152.1 86.3l11.5 11.5m0 -11.5l-11.5 11.5M168.9 85.1l11.5 11.5m0 -11.5l-11.5 11.5M176.1 83.9l11.5 11.5m0 -11.5l-11.5 11.5M154.5 93.5l11.5 11.5m0 -11.5l-11.5 11.5M136.5 112.7l11.5 11.5m0 -11.5l-11.5 11.5M146.1 105.5l11.5 11.5m0 -11.5l-11.5 11.5M149.7 110.3l11.5 11.5m0 -11.5l-11.5 11.5M154.5 115.1l11.5 11.5m0 -11.5l-11.5 11.5M118.5 111.5l11.5 11.5m0 -11.5l-11.5 11.5M165.3 110.3l11.5 11.5m0 -11.5l-11.5 11.5M171.3 115.1l11.5 11.5m0 -11.5l-11.5 11.5M197.7 80.3l11.5 11.5m0 -11.5l-11.5 11.5M224.1 67.1l11.5 11.5m0 -11.5l-11.5 11.5M220.5 73.1l11.5 11.5m0 -11.5l-11.5 11.5M228.9 71.9l11.5 11.5m0 -11.5l-11.5 11.5M209.7 82.7l11.5 11.5m0 -11.5l-11.5 11.5M203.7 77.9l11.5 11.5m0 -11.5l-11.5 11.5M329.1 130.1l11.5 11.5m0 -11.5l-11.5 11.5M294.9 143.9l11.5 11.5m0 -11.5l-11.5 11.5M288.3 159.5l11.5 11.5m0 -11.5l-11.5 11.5M292.5 166.7l11.5 11.5m0 -11.5l-11.5 11.5M293.7 172.7l11.5 11.5m0 -11.5l-11.5 11.5M266.1 178.1l11.5 11.5m0 -11.5l-11.5 11.5M267.3 184.7l11.5 11.5m0 -11.5l-11.5 11.5M251.7 204.5l11.5 11.5m0 -11.5l-11.5 11.5M238.5 177.5l11.5 11.5m0 -11.5l-11.5 11.5M274.5 134.3l11.5 11.5m0 -11.5l-11.5 11.5M249.3 133.1l11.5 11.5m0 -11.5l-11.5 11.5M268.5 146.3l11.5 11.5m0 -11.5l-11.5 11.5M278.1 147.5l11.5 11.5m0 -11.5l-11.5 11.5M250.5 147.5l11.5 11.5m0 -11.5l-11.5 11.5M257.7 158.3l11.5 11.5m0 -11.5l-11.5 11.5M243.3 158.3l11.5 11.5m0 -11.5l-11.5 11.5M240.9 143.9l11.5 11.5m0 -11.5l-11.5 11.5M237.3 167.9l11.5 11.5m0 -11.5l-11.5 11.5M246.9 161.9l11.5 11.5m0 -11.5l-11.5 11.5M245.7 123.5l11.5 11.5m0 -11.5l-11.5 11.5M257.7 124.7l11.5 11.5m0 -11.5l-11.5 11.5M269.7 124.1l11.5 11.5m0 -11.5l-11.5 11.5M281.7 125.9l11.5 11.5m0 -11.5l-11.5 11.5M293.7 125.3l11.5 11.5m0 -11.5l-11.5 11.5M305.7 125.3l11.5 11.5m0 -11.5l-11.5 11.5M311.7 124.7l11.5 11.5m0 -11.5l-11.5 11.5M41.7 128.3l11.5 11.5m0 -11.5l-11.5 11.5M61.8 122.3l11.5 11.5m0 -11.5l-11.5 11.5M80.7 130.1l11.5 11.5m0 -11.5l-11.5 11.5M47.7 154.1l11.5 11.5m0 -11.5l-11.5 11.5M64.7 157.9l11.5 11.5m0 -11.5l-11.5 11.5M74.3 103.1l11.5 11.5m0 -11.5l-11.5 11.5M76.5 108.5l11.5 11.5m0 -11.5l-11.5 11.5M93.9 100.7l11.5 11.5m0 -11.5l-11.5 11.5M90.9 112.1l11.5 11.5m0 -11.5l-11.5 11.5M95.7 121.7l11.5 11.5m0 -11.5l-11.5 11.5M100.5 86.3l11.5 11.5m0 -11.5l-11.5 11.5M88.5 161.3l11.5 11.5m0 -11.5l-11.5 11.5M93.3 145.7l11.5 11.5m0 -11.5l-11.5 11.5M101.7 137.3l11.5 11.5m0 -11.5l-11.5 11.5M105.3 144.5l11.5 11.5m0 -11.5l-11.5 11.5M108.9 151.7l11.5 11.5m0 -11.5l-11.5 11.5M101.7 160.1l11.5 11.5m0 -11.5l-11.5 11.5M111.3 127.7l11.5 11.5m0 -11.5l-11.5 11.5M108.9 161.3l11.5 11.5m0 -11.5l-11.5 11.5M56.1 186.8l11.5 11.5m0 -11.5l-11.5 11.5M39.1 199.4l11.5 11.5m0 -11.5l-11.5 11.5M54.5 210.9l11.5 11.5m0 -11.5l-11.5 11.5M83.0 191.3l11.5 11.5m0 -11.5l-11.5 11.5M80.8 180.2l11.5 11.5m0 -11.5l-11.5 11.5M95.5 181.7l11.5 11.5m0 -11.5l-11.5 11.5M100.0 180.2l11.5 11.5m0 -11.5l-11.5 11.5M111.8 183.2l11.5 11.5m0 -11.5l-11.5 11.5M113.2 189.8l11.5 11.5m0 -11.5l-11.5 11.5M101.4 201.6l11.5 11.5m0 -11.5l-11.5 11.5M95.5 206.8l11.5 11.5m0 -11.5l-11.5 11.5M88.1 213.4l11.5 11.5m0 -11.5l-11.5 11.5M111.8 208.3l11.5 11.5m0 -11.5l-11.5 11.5M117.7 217.1l11.5 11.5m0 -11.5l-11.5 11.5M68.2 228.2l11.5 11.5m0 -11.5l-11.5 11.5M77.8 228.2l11.5 11.5m0 -11.5l-11.5 11.5M88.1 227.4l11.5 11.5m0 -11.5l-11.5 11.5M97.0 226.0l11.5 11.5m0 -11.5l-11.5 11.5M104.4 223.0l11.5 11.5m0 -11.5l-11.5 11.5M111.8 227.4l11.5 11.5m0 -11.5l-11.5 11.5M119.1 226.0l11.5 11.5m0 -11.5l-11.5 11.5M105.9 233.4l11.5 11.5m0 -11.5l-11.5 11.5M114.7 234.8l11.5 11.5m0 -11.5l-11.5 11.5M63.0 244.4l11.5 11.5m0 -11.5l-11.5 11.5M36.0 251.1l11.5 11.5m0 -11.5l-11.5 11.5M39.9 251.1l11.5 11.5m0 -11.5l-11.5 11.5M82.2 250.3l11.5 11.5m0 -11.5l-11.5 11.5M97.0 242.2l11.5 11.5m0 -11.5l-11.5 11.5M98.5 248.1l11.5 11.5m0 -11.5l-11.5 11.5M89.6 257.0l11.5 11.5m0 -11.5l-11.5 11.5M97.0 259.9l11.5 11.5m0 -11.5l-11.5 11.5M105.9 257.0l11.5 11.5m0 -11.5l-11.5 11.5M116.2 255.5l11.5 11.5m0 -11.5l-11.5 11.5M104.4 267.3l11.5 11.5m0 -11.5l-11.5 11.5M108.8 270.3l11.5 11.5m0 -11.5l-11.5 11.5M101.4 277.6l11.5 11.5m0 -11.5l-11.5 11.5M120.6 277.6l11.5 11.5m0 -11.5l-11.5 11.5M54.5 277.6l11.5 11.5m0 -11.5l-11.5 11.5M-5.6 286.2l11.5 11.5m0 -11.5l-11.5 11.5M125.1 197.9l11.5 11.5m0 -11.5l-11.5 11.5M129.5 211.2l11.5 11.5m0 -11.5l-11.5 11.5M126.5 221.5l11.5 11.5m0 -11.5l-11.5 11.5M133.9 226.0l11.5 11.5m0 -11.5l-11.5 11.5M126.5 239.3l11.5 11.5m0 -11.5l-11.5 11.5M132.4 246.6l11.5 11.5m0 -11.5l-11.5 11.5M135.4 233.4l11.5 11.5m0 -11.5l-11.5 11.5M138.3 259.9l11.5 11.5m0 -11.5l-11.5 11.5M125.1 248.1l11.5 11.5m0 -11.5l-11.5 11.5M123.6 186.1l11.5 11.5m0 -11.5l-11.5 11.5M132.4 186.1l11.5 11.5m0 -11.5l-11.5 11.5M139.8 195.0l11.5 11.5m0 -11.5l-11.5 11.5M141.3 209.7l11.5 11.5m0 -11.5l-11.5 11.5M136.9 218.6l11.5 11.5m0 -11.5l-11.5 11.5M289.7 88.9l11.5 11.5m0 -11.5l-11.5 11.5M254.2 80.2l11.5 11.5m0 -11.5l-11.5 11.5M292.8 117.2l11.5 11.5m0 -11.5l-11.5 11.5M286.7 98.3l11.5 11.5m0 -11.5l-11.5 11.5M258.0 72.3l11.5 11.5m0 -11.5l-11.5 11.5M280.0 90.6l11.5 11.5m0 -11.5l-11.5 11.5M253.8 87.6l11.5 11.5m0 -11.5l-11.5 11.5M284.4 108.8l11.5 11.5m0 -11.5l-11.5 11.5M287.4 80.6l11.5 11.5m0 -11.5l-11.5 11.5M147.8 134.5l11.5 11.5m0 -11.5l-11.5 11.5M154.9 189.0l11.5 11.5m0 -11.5l-11.5 11.5M100.1 192.4l11.5 11.5m0 -11.5l-11.5 11.5M146.6 179.2l11.5 11.5m0 -11.5l-11.5 11.5M143.3 125.7l11.5 11.5m0 -11.5l-11.5 11.5M150.5 143.4l11.5 11.5m0 -11.5l-11.5 11.5M175.8 196.4l11.5 11.5m0 -11.5l-11.5 11.5M164.1 196.2l11.5 11.5m0 -11.5l-11.5 11.5M155.4 219.7l11.5 11.5m0 -11.5l-11.5 11.5M79.0 169.5l11.5 11.5m0 -11.5l-11.5 11.5M150.1 197.7l11.5 11.5m0 -11.5l-11.5 11.5M130.8 124.5l11.5 11.5m0 -11.5l-11.5 11.5M156.4 125.9l11.5 11.5m0 -11.5l-11.5 11.5M120.4 125.0l11.5 11.5m0 -11.5l-11.5 11.5M145.9 170.1l11.5 11.5m0 -11.5l-11.5 11.5M88.2 137.7l11.5 11.5m0 -11.5l-11.5 11.5M104.6 118.7l11.5 11.5m0 -11.5l-11.5 11.5M157.3 204.8l11.5 11.5m0 -11.5l-11.5 11.5M136.7 177.6l11.5 11.5m0 -11.5l-11.5 11.5M117.4 165.0l11.5 11.5m0 -11.5l-11.5 11.5M277.1 123.1l11.5 11.5m0 -11.5l-11.5 11.5M272.4 129.5l11.5 11.5m0 -11.5l-11.5 11.5M299.5 123.3l11.5 11.5m0 -11.5l-11.5 11.5M286.3 126.7l11.5 11.5m0 -11.5l-11.5 11.5M303.4 120.4l11.5 11.5m0 -11.5l-11.5 11.5M288.0 119.2l11.5 11.5m0 -11.5l-11.5 11.5M273.3 120.7l11.5 11.5m0 -11.5l-11.5 11.5M279.5 118.5l11.5 11.5m0 -11.5l-11.5 11.5M298.8 128.2l11.5 11.5m0 -11.5l-11.5 11.5M311.7 120.1l11.5 11.5m0 -11.5l-11.5 11.5M288.0 113.6l11.5 11.5m0 -11.5l-11.5 11.5M270.8 115.7l11.5 11.5m0 -11.5l-11.5 11.5M297.6 118.4l11.5 11.5m0 -11.5l-11.5 11.5M279.2 130.0l11.5 11.5m0 -11.5l-11.5 11.5M290.3 129.3l11.5 11.5m0 -11.5l-11.5 11.5M283.8 121.2l11.5 11.5m0 -11.5l-11.5 11.5" stroke="#808080" stroke-width="3.9" fill="none"/>
<path d="M126.9 46.2l11.5 11.5m0 -11.5l-11.5 11.5M137.6 62.1l11.5 11.5m0 -11.5l-11.5 11.5M105.5 70.2l11.5 11.5m0 -11.5l-11.5 11.5M105.8 80.9l11.5 11.5m0 -11.5l-11.5 11.5M114.0 79.8l11.5 11.5m0 -11.5l-11.5 11.5M111.4 93.1l11.5 11.5m0 -11.5l-11.5 11.5M155.1 -3.6l11.5 11.5m0 -11.5l-11.5 11.5M146.2 7.5l11.5 11.5m0 -11.5l-11.5 11.5M154.3 13.4l11.5 11.5m0 -11.5l-11.5 11.5M146.2 34.1l11.5 11.5m0 -11.5l-11.5 11.5M191.2 31.1l11.5 11.5m0 -11.5l-11.5 11.5M166.9 69.5l11.5 11.5m0 -11.5l-11.5 11.5M147.7 93.1l11.5 11.5m0 -11.5l-11.5 11.5M169.1 99.8l11.5 11.5m0 -11.5l-11.5 11.5M411.1 48.1l11.5 11.5m0 -11.5l-11.5 11.5M105.2 114.5l11.5 11.5m0 -11.5l-11.5 11.5M330.3 149.2l11.5 11.5m0 -11.5l-11.5 11.5M299.6 186.6l11.5 11.5m0 -11.5l-11.5 11.5M369.0 76.2l11.5 11.5m0 -11.5l-11.5 11.5M393.2 73.8l11.5 11.5m0 -11.5l-11.5 11.5M399.2 81.0l11.5 11.5m0 -11.5l-11.5 11.5M364.2 100.2l11.5 11.5m0 -11.5l-11.5 11.5M364.8 107.2l11.5 11.5m0 -11.5l-11.5 11.5M377.2 103.2l11.5 11.5m0 -11.5l-11.5 11.5M368.2 115.2l11.5 11.5m0 -11.5l-11.5 11.5M362.8 122.2l11.5 11.5m0 -11.5l-11.5 11.5M387.2 110.8l11.5 11.5m0 -11.5l-11.5 11.5M387.2 124.2l11.5 11.5m0 -11.5l-11.5 11.5M403.2 102.2l11.5 11.5m0 -11.5l-11.5 11.5M403.2 111.2l11.5 11.5m0 -11.5l-11.5 11.5M401.2 117.2l11.5 11.5m0 -11.5l-11.5 11.5M412.2 116.2l11.5 11.5m0 -11.5l-11.5 11.5M415.8 122.8l11.5 11.5m0 -11.5l-11.5 11.5M399.2 152.2l11.5 11.5m0 -11.5l-11.5 11.5M409.8 147.2l11.5 11.5m0 -11.5l-11.5 11.5" stroke="#ff0000" stroke-width="3.9" fill="none"/>
<circle cx="393.4" cy="116.6" r="7.1" fill="none" stroke="#008000" stroke-width="5"/>
<g fill="#ff0000" fill-opacity="0.5"><rect x="0.0" y="0.0" width="111.0" height="129.6"/><rect x="111.0" y="0.0" width="10.5" height="136.6"/><rect x="121.0" y="0.0" width="315.0" height="156.6"/><rect x="121.0" y="0.0" width="3.0" height="156.6"/><rect x="124.0" y="153.0" width="312.0" height="3.6"/><rect x="192.8" y="156.6" width="32.2" height="4.2"/><rect x="224.0" y="156.6" width="25.5" height="17.0"/><rect x="224.5" y="156.6" width="3.0" height="4.4"/><rect x="247.3" y="156.6" width="188.7" height="25.8"/></g>
<line x1="-13.52" y1="98.44" x2="283.81" y2="302.26" stroke="#008000" stroke-width="5.4"/>
</g>
<rect x="316.3" y="244.0" width="115.2" height="44.8" rx="2" ry="2" fill="#ffffff" fill-opacity="0.8" stroke="#c4c4c4" stroke-opacity="0.9" stroke-width="2"/>
<path d="M324.1 247.2l11.5 11.5m0 -11.5l-11.5 11.5" stroke="#808080" stroke-width="3.9" fill="none"/>
<path d="M324.1 259.9l11.5 11.5m0 -11.5l-11.5 11.5" stroke="#ff0000" stroke-width="3.9" fill="none"/>
<circle cx="329.8" cy="279.9" r="7.1" fill="none" stroke="#008000" stroke-width="5"/>
<text x="346.2" y="256.3" font-size="9.2" font-family="DejaVu Sans, Liberation Sans, sans-serif">class 0 (nominal)</text>
<text x="346.2" y="268.9" font-size="9.2" font-family="DejaVu Sans, Liberation Sans, sans-serif">class 1 (anomaly)</text>
<text x="346.2" y="282.2" font-size="9.2" font-family="DejaVu Sans, Liberation Sans, sans-serif">selected</text>
<rect x="0.00" y="0" width="436.00" height="293" fill="none" stroke="#000" stroke-width="2"/>
<path d="M57.0 293v8.2M139.0 293v8.2M221.0 293v8.2M304.0 293v8.2M386.0 293v8.2M0.00 260.0h-8.2M0.00 203.0h-8.2M0.00 147.0h-8.2M0.00 90.0h-8.2M0.00 34.0h-8.2" stroke="#000" stroke-width="2" fill="none"/>
<text x="57.0" y="325.9" text-anchor="middle" font-size="22.6" font-family="DejaVu Sans, Liberation Sans, sans-serif">−2</text>
<text x="139.0" y="325.9" text-anchor="middle" font-size="22.6" font-family="DejaVu Sans, Liberation Sans, sans-serif">0</text>
<text x="221.0" y="325.9" text-anchor="middle" font-size="22.6" font-family="DejaVu Sans, Liberation Sans, sans-serif">2</text>
<text x="304.0" y="325.9" text-anchor="middle" font-size="22.6" font-family="DejaVu Sans, Liberation Sans, sans-serif">4</text>
<text x="386.0" y="325.9" text-anchor="middle" font-size="22.6" font-family="DejaVu Sans, Liberation Sans, sans-serif">6</text>
<text x="-15.7" y="268.7" text-anchor="end" font-size="22.6" font-family="DejaVu Sans, Liberation Sans, sans-serif">−2</text>
<text x="-15.7" y="211.7" text-anchor="end" font-size="22.6" font-family="DejaVu Sans, Liberation Sans, sans-serif">0</text>
<text x="-15.7" y="155.7" text-anchor="end" font-size="22.6" font-family="DejaVu Sans, Liberation Sans, sans-serif">2</text>
<text x="-15.7" y="98.7" text-anchor="end" font-size="22.6" font-family="DejaVu Sans, Liberation Sans, sans-serif">4</text>
<text x="-15.7" y="42.7" text-anchor="end" font-size="22.6" font-family="DejaVu Sans, Liberation Sans, sans-serif">6</text>
<text x="218.0" y="-14.3" text-anchor="middle" font-size="18.4" font-family="DejaVu Sans, Liberation Sans, sans-serif">Ensemble member 2</text>
</g>
<g transform="translate(570.6,417)">
<g clip-path="url(#clip)">
<path d="M200.3 87.3l11.5 11.5m0 -11.5l-11.5 11.5M235.7 120.3l11.5 11.5m0 -11.5l-11.5 11.5M156.0 142.1l11.5 11.5m0 -11.5l-11.5 11.5M242.6 125.1l11.5 11.5m0 -11.5l-11.5 11.5M197.8 189.5l11.5 11.5m0 -11.5l-11.5 11.5M176.5 153.4l11.5 11.5m0 -11.5l-11.5 11.5M252.9 121.3l11.5 11.5m0 -11.5l-11.5 11.5M259.8 129.8l11.5 11.5m0 -11.5l-11.5 11.5M198.7 154.1l11.5 11.5m0 -11.5l-11.5 11.5M221.9 110.2l11.5 11.5m0 -11.5l-11.5 11.5M187.0 152.3l11.5 11.5m0 -11.5l-11.5 11.5M216.1 180.4l11.5 11.5m0 -11.5l-11.5 11.5M171.7 139.2l11.5 11.5m0 -11.5l-11.5 11.5M152.9 166.7l11.5 11.5m0 -11.5l-11.5 11.5M243.1 134.2l11.5 11.5m0 -11.5l-11.5 11.5M225.4 166.1l11.5 11.5m0 -11.5l-11.5 11.5M156.4 171.9l11.5 11.5m0 -11.5l-11.5 11.5M210.7 166.8l11.5 11.5m0 -11.5l-11.5 11.5M159.8 133.1l11.5 11.5m0 -11.5l-11.5 11.5M192.8 127.9l11.5 11.5m0 -11.5l-11.5 11.5M206.2 199.9l11.5 11.5m0 -11.5l-11.5 11.5M175.7 99.8l11.5 11.5m0 -11.5l-11.5 11.5M185.2 138.6l11.5 11.5m0 -11.5l-11.5 11.5M244.6 104.5l11.5 11.5m0 -11.5l-11.5 11.5M207.9 151.1l11.5 11.5m0 -11.5l-11.5 11.5M232.3 159.0l11.5 11.5m0 -11.5l-11.5 11.5M211.8 125.4l11.5 11.5m0 -11.5l-11.5 11.5M163.6 161.5l11.5 11.5m0 -11.5l-11.5 11.5M181.1 89.1l11.5 11.5m0 -11.5l-11.5 11.5M248.8 87.0l11.5 11.5m0 -11.5l-11.5 11.5M188.4 117.5l11.5 11.5m0 -11.5l-11.5 11.5M207.1 83.0l11.5 11.5m0 -11.5l-11.5 11.5M224.1 138.4l11.5 11.5m0 -11.5l-11.5 11.5M203.5 104.8l11.5 11.5m0 -11.5l-11.5 11.5M234.4 86.7l11.5 11.5m0 -11.5l-11.5 11.5M189.9 120.5l11.5 11.5m0 -11.5l-11.5 11.5M174.2 182.7l11.5 11.5m0 -11.5l-11.5 11.5M201.3 98.4l11.5 11.5m0 -11.5l-11.5 11.5M184.1 143.6l11.5 11.5m0 -11.5l-11.5 11.5M189.6 170.5l11.5 11.5m0 -11.5l-11.5 11.5M305.6 120.1l11.5 11.5m0 -11.5l-11.5 11.5M183.1 99.0l11.5 11.5m0 -11.5l-11.5 11.5M179.1 95.5l11.5 11.5m0 -11.5l-11.5 11.5M160.5 165.6l11.5 11.5m0 -11.5l-11.5 11.5M176.1 185.3l11.5 11.5m0 -11.5l-11.5 11.5M201.8 187.1l11.5 11.5m0 -11.5l-11.5 11.5M308.4 124.9l11.5 11.5m0 -11.5l-11.5 11.5M204.8 148.4l11.5 11.5m0 -11.5l-11.5 11.5M188.3 109.1l11.5 11.5m0 -11.5l-11.5 11.5M186.4 154.2l11.5 11.5m0 -11.5l-11.5 11.5M189.6 128.5l11.5 11.5m0 -11.5l-11.5 11.5M205.3 134.5l11.5 11.5m0 -11.5l-11.5 11.5M230.0 145.8l11.5 11.5m0 -11.5l-11.5 11.5M219.7 92.3l11.5 11.5m0 -11.5l-11.5 11.5M175.1 136.9l11.5 11.5m0 -11.5l-11.5 11.5M200.7 143.7l11.5 11.5m0 -11.5l-11.5 11.5M164.0 150.2l11.5 11.5m0 -11.5l-11.5 11.5M187.8 106.7l11.5 11.5m0 -11.5l-11.5 11.5M248.5 141.8l11.5 11.5m0 -11.5l-11.5 11.5M231.8 170.5l11.5 11.5m0 -11.5l-11.5 11.5M221.8 146.0l11.5 11.5m0 -11.5l-11.5 11.5M166.6 132.0l11.5 11.5m0 -11.5l-11.5 11.5M158.5 166.9l11.5 11.5m0 -11.5l-11.5 11.5M172.1 174.1l11.5 11.5m0 -11.5l-11.5 11.5M212.8 139.0l11.5 11.5m0 -11.5l-11.5 11.5M173.3 130.4l11.5 11.5m0 -11.5l-11.5 11.5M232.3 116.2l11.5 11.5m0 -11.5l-11.5 11.5M179.0 113.1l11.5 11.5m0 -11.5l-11.5 11.5M238.7 131.8l11.5 11.5m0 -11.5l-11.5 11.5M191.4 84.0l11.5 11.5m0 -11.5l-11.5 11.5M261.1 129.5l11.5 11.5m0 -11.5l-11.5 11.5M222.0 116.2l11.5 11.5m0 -11.5l-11.5 11.5M191.0 84.0l11.5 11.5m0 -11.5l-11.5 11.5M234.2 100.8l11.5 11.5m0 -11.5l-11.5 11.5M198.4 111.0l11.5 11.5m0 -11.5l-11.5 11.5M229.7 91.5l11.5 11.5m0 -11.5l-11.5 11.5M177.9 137.0l11.5 11.5m0 -11.5l-11.5 11.5M211.9 141.9l11.5 11.5m0 -11.5l-11.5 11.5M203.5 191.9l11.5 11.5m0 -11.5l-11.5 11.5M213.8 117.5l11.5 11.5m0 -11.5l-11.5 11.5M158.1 177.9l11.5 11.5m0 -11.5l-11.5 11.5M189.0 89.2l11.5 11.5m0 -11.5l-11.5 11.5M193.3 101.3l11.5 11.5m0 -11.5l-11.5 11.5M195.2 134.7l11.5 11.5m0 -11.5l-11.5 11.5M172.6 132.6l11.5 11.5m0 -11.5l-11.5 11.5M190.2 211.8l11.5 11.5m0 -11.5l-11.5 11.5M187.1 212.4l11.5 11.5m0 -11.5l-11.5 11.5M198.0 118.9l11.5 11.5m0 -11.5l-11.5 11.5M225.5 141.3l11.5 11.5m0 -11.5l-11.5 11.5M179.8 141.6l11.5 11.5m0 -11.5l-11.5 11.5M197.1 99.9l11.5 11.5m0 -11.5l-11.5 11.5M244.0 145.4l11.5 11.5m0 -11.5l-11.5 11.5M211.3 114.2l11.5 11.5m0 -11.5l-11.5 11.5M169.6 144.6l11.5 11.5m0 -11.5l-11.5 11.5M168.5 119.5l11.5 11.5m0 -11.5l-11.5 11.5M239.5 160.5l11.5 11.5m0 -11.5l-11.5 11.5M227.9 64.7l11.5 11.5m0 -11.5l-11.5 11.5M230.2 146.3l11.5 11.5m0 -11.5l-11.5 11.5M228.7 122.9l11.5 11.5m0 -11.5l-11.5 11.5M226.2 169.1l11.5 11.5m0 -11.5l-11.5 11.5M259.0 108.8l11.5 11.5m0 -11.5l-11.5 11.5M232.5 135.5l11.5 11.5m0 -11.5l-11.5 11.5M224.1 82.3l11.5 11.5m0 -11.5l-11.5 11.5M221.3 105.4l11.5 11.5m0 -11.5l-11.5 11.5M181.5 153.4l11.5 11.5m0 -11.5l-11.5 11.5M170.0 144.6l11.5 11.5m0 -11.5l-11.5 11.5M184.9 202.0l11.5 11.5m0 -11.5l-11.5 11.5M227.4 68.0l11.5 11.5m0 -11.5l-11.5 11.5M221.5 110.5l11.5 11.5m0 -11.5l-11.5 11.5M169.8 117.0l11.5 11.5m0 -11.5l-11.5 11.5M199.0 193.2l11.5 11.5m0 -11.5l-11.5 11.5M208.4 124.5l11.5 11.5m0 -11.5l-11.5 11.5M206.5 129.9l11.5 11.5m0 -11.5l-11.5 11.5M192.2 71.6l11.5 11.5m0 -11.5l-11.5 11.5M194.0 207.8l11.5 11.5m0 -11.5l-11.5 11.5M187.9 105.0l11.5 11.5m0 -11.5l-11.5 11.5M231.6 93.3l11.5 11.5m0 -11.5l-11.5 11.5M194.1 71.7l11.5 11.5m0 -11.5l-11.5 11.5M225.1 116.9l11.5 11.5m0 -11.5l-11.5 11.5M196.0 177.6l11.5 11.5m0 -11.5l-11.5 11.5M255.7 110.3l11.5 11.5m0 -11.5l-11.5 11.5M239.3 124.7l11.5 11.5m0 -11.5l-11.5 11.5M229.2 97.9l11.5 11.5m0 -11.5l-11.5 11.5M221.4 85.6l11.5 11.5m0 -11.5l-11.5 11.5M203.4 78.1l11.5 11.5m0 -11.5l-11.5 11.5M186.2 103.8l11.5 11.5m0 -11.5l-11.5 11.5M271.4 127.5l11.5 11.5m0 -11.5l-11.5 11.5M215.4 144.6l11.5 11.5m0 -11.5l-11.5 11.5M209.2 116.1l11.5 11.5m0 -11.5l-11.5 11.5M230.3 160.8l11.5 11.5m0 -11.5l-11.5 11.5M191.5 102.3l11.5 11.5m0 -11.5l-11.5 11.5M213.0 132.6l11.5 11.5m0 -11.5l-11.5 11.5M151.7 173.1l11.5 11.5m0 -11.5l-11.5 11.5M233.5 168.9l11.5 11.5m0 -11.5l-11.5 11.5M222.6 148.8l11.5 11.5m0 -11.5l-11.5 11.5M185.1 205.4l11.5 11.5m0 -11.5l-11.5 11.5M254.0 110.8l11.5 11.5m0 -11.5l-11.5 11.5M233.8 153.6l11.5 11.5m0 -11.5l-11.5 11.5M211.1 98.5l11.5 11.5m0 -11.5l-11.5 11.5M196.6 134.9l11.5 11.5m0 -11.5l-11.5 11.5M185.5 102.1l11.5 11.5m0 -11.5l-11.5 11.5M229.4 167.7l11.5 11.5m0 -11.5l-11.5 11.5M216.4 103.7l11.5 11.5m0 -11.5l-11.5 11.5M202.7 128.7l11.5 11.5m0 -11.5l-11.5 11.5M230.5 95.7l11.5 11.5m0 -11.5l-11.5 11.5M183.3 180.9l11.5 11.5m0 -11.5l-11.5 11.5M195.5 210.3l11.5 11.5m0 -11.5l-11.5 11.5M229.0 92.9l11.5 11.5m0 -11.5l-11.5 11.5M183.6 128.2l11.5 11.5m0 -11.5l-11.5 11.5M170.7 124.6l11.5 11.5m0 -11.5l-11.5 11.5M257.2 122.3l11.5 11.5m0 -11.5l-11.5 11.5M208.7 115.1l11.5 11.5m0 -11.5l-11.5 11.5M193.0 118.1l11.5 11.5m0 -11.5l-11.5 11.5M205.8 190.3l11.5 11.5m0 -11.5l-11.5 11.5M154.5 136.8l11.5 11.5m0 -11.5l-11.5 11.5M178.5 120.1l11.5 11.5m0 -11.5l-11.5 11.5M214.8 188.8l11.5 11.5m0 -11.5l-11.5 11.5M202.9 106.0l11.5 11.5m0 -11.5l-11.5 11.5M190.1 174.2l11.5 11.5m0 -11.5l-11.5 11.5M199.1 106.5l11.5 11.5m0 -11.5l-11.5 11.5M185.3 137.1l11.5 11.5m0 -11.5l-11.5 11.5M210.8 102.7l11.5 11.5m0 -11.5l-11.5 11.5M218.0 139.9l11.5 11.5m0 -11.5l-11.5 11.5M247.6 114.5l11.5 11.5m0 -11.5l-11.5 11.5M199.6 119.7l11.5 11.5m0 -11.5l-11.5 11.5M179.2 179.7l11.5 11.5m0 -11.5l-11.5 11.5M187.6 74.1l11.5 11.5m0 -11.5l-11.5 11.5M152.0 149.0l11.5 11.5m0 -11.5l-11.5 11.5M200.7 214.7l11.5 11.5m0 -11.5l-11.5 11.5M190.5 77.1l11.5 11.5m0 -11.5l-11.5 11.5M162.4 140.7l11.5 11.5m0 -11.5l-11.5 11.5M264.7 132.8l11.5 11.5m0 -11.5l-11.5 11.5M185.4 128.2l11.5 11.5m0 -11.5l-11.5 11.5M240.9 121.4l11.5 11.5m0 -11.5l-11.5 11.5M187.6 101.8l11.5 11.5m0 -11.5l-11.5 11.5M242.8 114.3l11.5 11.5m0 -11.5l-11.5 11.5M230.9 99.7l11.5 11.5m0 -11.5l-11.5 11.5M301.5 121.3l11.5 11.5m0 -11.5l-11.5 11.5M189.7 183.6l11.5 11.5m0 -11.5l-11.5 11.5M182.6 120.8l11.5 11.5m0 -11.5l-11.5 11.5M188.8 156.2l11.5 11.5m0 -11.5l-11.5 11.5M255.0 95.4l11.5 11.5m0 -11.5l-11.5 11.5M198.4 95.4l11.5 11.5m0 -11.5l-11.5 11.5M212.3 148.6l11.5 11.5m0 -11.5l-11.5 11.5M173.6 170.9l11.5 11.5m0 -11.5l-11.5 11.5M214.7 107.7l11.5 11.5m0 -11.5l-11.5 11.5M197.6 210.5l11.5 11.5m0 -11.5l-11.5 11.5M198.4 151.1l11.5 11.5m0 -11.5l-11.5 11.5M205.9 128.1l11.5 11.5m0 -11.5l-11.5 11.5M207.0 94.4l11.5 11.5m0 -11.5l-11.5 11.5M223.2 89.1l11.5 11.5m0 -11.5l-11.5 11.5M161.2 159.7l11.5 11.5m0 -11.5l-11.5 11.5M208.2 141.6l11.5 11.5m0 -11.5l-11.5 11.5M164.5 139.5l11.5 11.5m0 -11.5l-11.5 11.5M226.8 72.4l11.5 11.5m0 -11.5l-11.5 11.5M300.8 123.7l11.5 11.5m0 -11.5l-11.5 11.5M182.7 125.5l11.5 11.5m0 -11.5l-11.5 11.5M232.7 123.0l11.5 11.5m0 -11.5l-11.5 11.5M153.2 150.5l11.5 11.5m0 -11.5l-11.5 11.5M250.9 111.2l11.5 11.5m0 -11.5l-11.5 11.5M216.4 153.6l11.5 11.5m0 -11.5l-11.5 11.5M217.3 165.3l11.5 11.5m0 -11.5l-11.5 11.5M220.8 131.5l11.5 11.5m0 -11.5l-11.5 11.5M150.2 159.2l11.5 11.5m0 -11.5l-11.5 11.5M228.0 100.3l11.5 11.5m0 -11.5l-11.5 11.5M222.8 91.7l11.5 11.5m0 -11.5l-11.5 11.5M225.3 80.6l11.5 11.5m0 -11.5l-11.5 11.5M167.7 130.3l11.5 11.5m0 -11.5l-11.5 11.5M161.6 132.0l11.5 11.5m0 -11.5l-11.5 11.5M231.4 70.4l11.5 11.5m0 -11.5l-11.5 11.5M231.6 72.5l11.5 11.5m0 -11.5l-11.5 11.5M230.4 122.2l11.5 11.5m0 -11.5l-11.5 11.5M181.1 104.5l11.5 11.5m0 -11.5l-11.5 11.5M230.7 113.1l11.5 11.5m0 -11.5l-11.5 11.5M174.5 184.7l11.5 11.5m0 -11.5l-11.5 11.5M165.5 145.6l11.5 11.5m0 -11.5l-11.5 11.5M252.5 119.4l11.5 11.5m0 -11.5l-11.5 11.5M251.4 124.7l11.5 11.5m0 -11.5l-11.5 11.5M206.4 181.5l11.5 11.5m0 -11.5l-11.5 11.5M220.1 91.3l11.5 11.5m0 -11.5l-11.5 11.5M249.1 130.5l11.5 11.5m0 -11.5l-11.5 11.5M183.7 153.8l11.5 11.5m0 -11.5l-11.5 11.5M244.6 95.5l11.5 11.5m0 -11.5l-11.5 11.5M250.4 137.1l11.5 11.5m0 -11.5l-11.5 11.5M187.0 87.1l11.5 11.5m0 -11.5l-11.5 11.5M162.3 162.1l11.5 11.5m0 -11.5l-11.5 11.5M213.4 104.7l11.5 11.5m0 -11.5l-11.5 11.5M148.2 163.2l11.5 11.5m0 -11.5l-11.5 11.5M240.1 117.9l11.5 11.5m0 -11.5l-11.5 11.5M254.0 132.3l11.5 11.5m0 -11.5l-11.5 11.5M187.8 202.9l11.5 11.5m0 -11.5l-11.5 11.5M153.7 145.8l11.5 11.5m0 -11.5l-11.5 11.5M214.0 100.6l11.5 11.5m0 -11.5l-11.5 11.5M179.6 157.5l11.5 11.5m0 -11.5l-11.5 11.5M230.9 162.7l11.5 11.5m0 -11.5l-11.5 11.5M197.9 110.3l11.5 11.5m0 -11.5l-11.5 11.5M184.0 80.3l11.5 11.5m0 -11.5l-11.5 11.5M202.3 179.2l11.5 11.5m0 -11.5l-11.5 11.5M238.7 131.1l11.5 11.5m0 -11.5l-11.5 11.5M190.6 162.7l11.5 11.5m0 -11.5l-11.5 11.5M189.8 100.4l11.5 11.5m0 -11.5l-11.5 11.5M293.1 114.6l11.5 11.5m0 -11.5l-11.5 11.5M186.2 203.5l11.5 11.5m0 -11.5l-11.5 11.5M219.3 175.4l11.5 11.5m0 -11.5l-11.5 11.5M241.5 111.4l11.5 11.5m0 -11.5l-11.5 11.5M181.7 159.7l11.5 11.5m0 -11.5l-11.5 11.5M203.8 85.9l11.5 11.5m0 -11.5l-11.5 11.5M157.3 154.8l11.5 11.5m0 -11.5l-11.5 11.5M206.9 189.7l11.5 11.5m0 -11.5l-11.5 11.5M251.7 108.3l11.5 11.5m0 -11.5l-11.5 11.5M199.6 129.2l11.5 11.5m0 -11.5l-11.5 11.5M193.5 174.0l11.5 11.5m0 -11.5l-11.5 11.5M207.7 113.4l11.5 11.5m0 -11.5l-11.5 11.5M219.1 182.8l11.5 11.5m0 -11.5l-11.5 11.5M204.2 172.3l11.5 11.5m0 -11.5l-11.5 11.5M236.0 97.4l11.5 11.5m0 -11.5l-11.5 11.5M228.3 186.5l11.5 11.5m0 -11.5l-11.5 11.5M177.1 140.1l11.5 11.5m0 -11.5l-11.5 11.5M204.2 191.9l11.5 11.5m0 -11.5l-11.5 11.5M189.8 209.1l11.5 11.5m0 -11.5l-11.5 11.5M193.6 97.1l11.5 11.5m0 -11.5l-11.5 11.5M164.7 161.9l11.5 11.5m0 -11.5l-11.5 11.5M159.8 185.1l11.5 11.5m0 -11.5l-11.5 11.5M86.3 72.2l11.5 11.5m0 -11.5l-11.5 11.5M285.0 5.3l11.5 11.5m0 -11.5l-11.5 11.5M284.3 22.3l11.5 11.5m0 -11.5l-11.5 11.5M390.4 -5.1l11.5 11.5m0 -11.5l-11.5 11.5M373.1 31.9l11.5 11.5m0 -11.5l-11.5 11.5M383.0 43.7l11.5 11.5m0 -11.5l-11.5 11.5M362.3 89.4l11.5 11.5m0 -11.5l-11.5 11.5M429.5 68.0l11.5 11.5m0 -11.5l-11.5 11.5M115.8 136.7l11.5 11.5m0 -11.5l-11.5 11.5M132.0 135.2l11.5 11.5m0 -11.5l-11.5 11.5M101.0 167.7l11.5 11.5m0 -11.5l-11.5 11.5M95.1 173.6l11.5 11.5m0 -11.5l-11.5 11.5M115.8 175.1l11.5 11.5m0 -11.5l-11.5 11.5M121.7 150.0l11.5 11.5m0 -11.5l-11.5 11.5M126.1 160.3l11.5 11.5m0 -11.5l-11.5 11.5M132.0 145.5l11.5 11.5m0 -11.5l-11.5 11.5M137.9 138.2l11.5 11.5m0 -11.5l-11.5 11.5M140.9 152.9l11.5 11.5m0 -11.5l-11.5 11.5M133.5 167.7l11.5 11.5m0 -11.5l-11.5 11.5M126.1 178.0l11.5 11.5m0 -11.5l-11.5 11.5M241.9 220.4l11.5 11.5m0 -11.5l-11.5 11.5M230.4 235.9l11.5 11.5m0 -11.5l-11.5 11.5M225.9 241.1l11.5 11.5m0 -11.5l-11.5 11.5M238.9 244.1l11.5 11.5m0 -11.5l-11.5 11.5M185.0 240.8l11.5 11.5m0 -11.5l-11.5 11.5M185.3 278.8l11.5 11.5m0 -11.5l-11.5 11.5M150.6 255.9l11.5 11.5m0 -11.5l-11.5 11.5M147.7 227.8l11.5 11.5m0 -11.5l-11.5 11.5M149.2 210.1l11.5 11.5m0 -11.5l-11.5 11.5M165.1 223.4l11.5 11.5m0 -11.5l-11.5 11.5M165.4 210.1l11.5 11.5m0 -11.5l-11.5 11.5M174.3 211.6l11.5 11.5m0 -11.5l-11.5 11.5M186.1 221.2l11.5 11.5m0 -11.5l-11.5 11.5M202.3 224.1l11.5 11.5m0 -11.5l-11.5 11.5M193.4 213.1l11.5 11.5m0 -11.5l-11.5 11.5M205.3 207.2l11.5 11.5m0 -11.5l-11.5 11.5M187.5 205.7l11.5 11.5m0 -11.5l-11.5 11.5M197.9 205.7l11.5 11.5m0 -11.5l-11.5 11.5M362.8 89.8l11.5 11.5m0 -11.5l-11.5 11.5M275.1 37.1l11.5 11.5m0 -11.5l-11.5 11.5M299.1 43.1l11.5 11.5m0 -11.5l-11.5 11.5M247.5 53.3l11.5 11.5m0 -11.5l-11.5 11.5M259.5 51.5l11.5 11.5m0 -11.5l-11.5 11.5M276.9 53.3l11.5 11.5m0 -11.5l-11.5 11.5M288.3 58.1l11.5 11.5m0 -11.5l-11.5 11.5M262.5 62.3l11.5 11.5m0 -11.5l-11.5 11.5M303.9 54.5l11.5 11.5m0 -11.5l-11.5 11.5M308.1 61.7l11.5 11.5m0 -11.5l-11.5 11.5M322.5 47.9l11.5 11.5m0 -11.5l-11.5 11.5M326.1 49.1l11.5 11.5m0 -11.5l-11.5 11.5M328.5 51.5l11.5 11.5m0 -11.5l-11.5 11.5M350.1 50.3l11.5 11.5m0 -11.5l-11.5 11.5M314.1 71.3l11.5 11.5m0 -11.5l-11.5 11.5M320.1 71.3l11.5 11.5m0 -11.5l-11.5 11.5M340.5 76.1l11.5 11.5m0 -11.5l-11.5 11.5M341.1 80.3l11.5 11.5m0 -11.5l-11.5 11.5M334.5 89.3l11.5 11.5m0 -11.5l-11.5 11.5M286.5 73.1l11.5 11.5m0 -11.5l-11.5 11.5M292.5 75.5l11.5 11.5m0 -11.5l-11.5 11.5M297.3 76.7l11.5 11.5m0 -11.5l-11.5 11.5M264.9 71.9l11.5 11.5m0 -11.5l-11.5 11.5M269.7 76.7l11.5 11.5m0 -11.5l-11.5 11.5M263.7 82.7l11.5 11.5m0 -11.5l-11.5 11.5M272.1 83.9l11.5 11.5m0 -11.5l-11.5 11.5M261.3 89.9l11.5 11.5m0 -11.5l-11.5 11.5M243.3 85.1l11.5 11.5m0 -11.5l-11.5 11.5M238.5 82.7l11.5 11.5m0 -11.5l-11.5 11.5M240.9 94.7l11.5 11.5m0 -11.5l-11.5 11.5M249.3 99.5l11.5 11.5m0 -11.5l-11.5 11.5M257.7 104.3l11.5 11.5m0 -11.5l-11.5 11.5M255.3 113.9l11.5 11.5m0 -11.5l-11.5 11.5M245.7 113.9l11.5 11.5m0 -11.5l-11.5 11.5M294.9 94.7l11.5 11.5m0 -11.5l-11.5 11.5M298.5 97.1l11.5 11.5m0 -11.5l-11.5 11.5M290.1 104.3l11.5 11.5m0 -11.5l-11.5 11.5M291.3 110.3l11.5 11.5m0 -11.5l-11.5 11.5M278.1 113.9l11.5 11.5m0 -11.5l-11.5 11.5M284.1 116.3l11.5 11.5m0 -11.5l-11.5 11.5M300.9 115.1l11.5 11.5m0 -11.5l-11.5 11.5M306.9 116.3l11.5 11.5m0 -11.5l-11.5 11.5M324.9 105.5l11.5 11.5m0 -11.5l-11.5 11.5M320.1 111.5l11.5 11.5m0 -11.5l-11.5 11.5M317.7 116.3l11.5 11.5m0 -11.5l-11.5 11.5M328.5 103.1l11.5 11.5m0 -11.5l-11.5 11.5M236.1 73.1l11.5 11.5m0 -11.5l-11.5 11.5M275.7 68.3l11.5 11.5m0 -11.5l-11.5 11.5M280.5 80.3l11.5 11.5m0 -11.5l-11.5 11.5M204.6 42.5l11.5 11.5m0 -11.5l-11.5 11.5M203.1 55.7l11.5 11.5m0 -11.5l-11.5 11.5M188.7 68.9l11.5 11.5m0 -11.5l-11.5 11.5M189.3 73.1l11.5 11.5m0 -11.5l-11.5 11.5M131.7 91.1l11.5 11.5m0 -11.5l-11.5 11.5M156.9 78.5l11.5 11.5m0 -11.5l-11.5 11.5M152.1 86.3l11.5 11.5m0 -11.5l-11.5 11.5M168.9 85.1l11.5 11.5m0 -11.5l-11.5 11.5M176.1 83.9l11.5 11.5m0 -11.5l-11.5 11.5M154.5 93.5l11.5 11.5m0 -11.5l-11.5 11.5M136.5 112.7l11.5 11.5m0 -11.5l-11.5 11.5M146.1 105.5l11.5 11.5m0 -11.5l-11.5 11.5M149.7 110.3l11.5 11.5m0 -11.5l-11.5 11.5M154.5 115.1l11.5 11.5m0 -11.5l-11.5 11.5M118.5 111.5l11.5 11.5m0 -11.5l-11.5 11.5M165.3 110.3l11.5 11.5m0 -11.5l-11.5 11.5M171.3 115.1l11.5 11.5m0 -11.5l-11.5 11.5M197.7 80.3l11.5 11.5m0 -11.5l-11.5 11.5M224.1 67.1l11.5 11.5m0 -11.5l-11.5 11.5M220.5 73.1l11.5 11.5m0 -11.5l-11.5 11.5M228.9 71.9l11.5 11.5m0 -11.5l-11.5 11.5M209.7 82.7l11.5 11.5m0 -11.5l-11.5 11.5M203.7 77.9l11.5 11.5m0 -11.5l-11.5 11.5M329.1 130.1l11.5 11.5m0 -11.5l-11.5 11.5M294.9 143.9l11.5 11.5m0 -11.5l-11.5 11.5M288.3 159.5l11.5 11.5m0 -11.5l-11.5 11.5M292.5 166.7l11.5 11.5m0 -11.5l-11.5 11.5M293.7 172.7l11.5 11.5m0 -11.5l-11.5 11.5M266.1 178.1l11.5 11.5m0 -11.5l-11.5 11.5M267.3 184.7l11.5 11.5m0 -11.5l-11.5 11.5M251.7 204.5l11.5 11.5m0 -11.5l-11.5 11.5M238.5 177.5l11.5 11.5m0 -11.5l-11.5 11.5M274.5 134.3l11.5 11.5m0 -11.5l-11.5 11.5M249.3 133.1l11.5 11.5m0 -11.5l-11.5 11.5M268.5 146.3l11.5 11.5m0 -11.5l-11.5 11.5M278.1 147.5l11.5 11.5m0 -11.5l-11.5 11.5M250.5 147.5l11.5 11.5m0 -11.5l-11.5 11.5M257.7 158.3l11.5 11.5m0 -11.5l-11.5 11.5M243.3 158.3l11.5 11.5m0 -11.5l-11.5 11.5M240.9 143.9l11.5 11.5m0 -11.5l-11.5 11.5M237.3 167.9l11.5 11.5m0 -11.5l-11.5 11.5M246.9 161.9l11.5 11.5m0 -11.5l-11.5 11.5M245.7 123.5l11.5 11.5m0 -11.5l-11.5 11.5M257.7 124.7l11.5 11.5m0 -11.5l-11.5 11.5M269.7 124.1l11.5 11.5m0 -11.5l-11.5 11.5M281.7 125.9l11.5 11.5m0 -11.5l-11.5 11.5M293.7 125.3l11.5 11.5m0 -11.5l-11.5 11.5M305.7 125.3l11.5 11.5m0 -11.5l-11.5 11.5M311.7 124.7l11.5 11.5m0 -11.5l-11.5 11.5M41.7 128.3l11.5 11.5m0 -11.5l-11.5 11.5M61.8 122.3l11.5 11.5m0 -11.5l-11.5 11.5M80.7 130.1l11.5 11.5m0 -11.5l-11.5 11.5M47.7 154.1l11.5 11.5m0 -11.5l-11.5 11.5M64.7 157.9l11.5 11.5m0 -11.5l-11.5 11.5M74.3 103.1l11.5 11.5m0 -11.5l-11.5 11.5M76.5 108.5l11.5 11.5m0 -11.5l-11.5 11.5M93.9 100.7l11.5 11.5m0 -11.5l-11.5 11.5M90.9 112.1l11.5 11.5m0 -11.5l-11.5 11.5M95.7 121.7l11.5 11.5m0 -11.5l-11.5 11.5M100.5 86.3l11.5 11.5m0 -11.5l-11.5 11.5M88.5 161.3l11.5 11.5m0 -11.5l-11.5 11.5M93.3 145.7l11.5 11.5m0 -11.5l-11.5 11.5M101.7 137.3l11.5 11.5m0 -11.5l-11.5 11.5M105.3 144.5l11.5 11.5m0 -11.5l-11.5 11.5M108.9 151.7l11.5 11.5m0 -11.5l-11.5 11.5M101.7 160.1l11.5 11.5m0 -11.5l-11.5 11.5M111.3 127.7l11.5 11.5m0 -11.5l-11.5 11.5M108.9 161.3l11.5 11.5m0 -11.5l-11.5 11.5M56.1 186.8l11.5 11.5m0 -11.5l-11.5 11.5M39.1 199.4l11.5 11.5m0 -11.5l-11.5 11.5M54.5 210.9l11.5 11.5m0 -11.5l-11.5 11.5M83.0 191.3l11.5 11.5m0 -11.5l-11.5 11.5M80.8 180.2l11.5 11.5m0 -11.5l-11.5 11.5M95.5 181.7l11.5 11.5m0 -11.5l-11.5 11.5M100.0 180.2l11.5 11.5m0 -11.5l-11.5 11.5M111.8 183.2l11.5 11.5m0 -11.5l-11.5 11.5M113.2 189.8l11.5 11.5m0 -11.5l-11.5 11.5M101.4 201.6l11.5 11.5m0 -11.5l-11.5 11.5M95.5 206.8l11.5 11.5m0 -11.5l-11.5 11.5M88.1 213.4l11.5 11.5m0 -11.5l-11.5 11.5M111.8 208.3l11.5 11.5m0 -11.5l-11.5 11.5M117.7 217.1l11.5 11.5m0 -11.5l-11.5 11.5M68.2 228.2l11.5 11.5m0 -11.5l-11.5 11.5M77.8 228.2l11.5 11.5m0 -11.5l-11.5 11.5M88.1 227.4l11.5 11.5m0 -11.5l-11.5 11.5M97.0 226.0l11.5 11.5m0 -11.5l-11.5 11.5M104.4 223.0l11.5 11.5m0 -11.5l-11.5 11.5M111.8 227.4l11.5 11.5m0 -11.5l-11.5 11.5M119.1 226.0l11.5 11.5m0 -11.5l-11.5 11.5M105.9 233.4l11.5 11.5m0 -11.5l-11.5 11.5M114.7 234.8l11.5 11.5m0 -11.5l-11.5 11.5M63.0 244.4l11.5 11.5m0 -11.5l-11.5 11.5M36.0 251.1l11.5 11.5m0 -11.5l-11.5 11.5M39.9 251.1l11.5 11.5m0 -11.5l-11.5 11.5M82.2 250.3l11.5 11.5m0 -11.5l-11.5 11.5M97.0 242.2l11.5 11.5m0 -11.5l-11.5 11.5M98.5 248.1l11.5 11.5m0 -11.5l-11.5 11.5M89.6 257.0l11.5 11.5m0 -11.5l-11.5 11.5M97.0 259.9l11.5 11.5m0 -11.5l-11.5 11.5M105.9 257.0l11.5 11.5m0 -11.5l-11.5 11.5M116.2 255.5l11.5 11.5m0 -11.5l-11.5 11.5M104.4 267.3l11.5 11.5m0 -11.5l-11.5 11.5M108.8 270.3l11.5 11.5m0 -11.5l-11.5 11.5M101.4 277.6l11.5 11.5m0 -11.5l-11.5 11.5M120.6 277.6l11.5 11.5m0 -11.5l-11.5 11.5M54.5 277.6l11.5 11.5m0 -11.5l-11.5 11.5M-5.6 286.2l11.5 11.5m0 -11.5l-11.5 11.5M125.1 197.9l11.5 11.5m0 -11.5l-11.5 11.5M129.5 211.2l11.5 11.5m0 -11.5l-11.5 11.5M126.5 221.5l11.5 11.5m0 -11.5l-11.5 11.5M133.9 226.0l11.5 11.5m0 -11.5l-11.5 11.5M126.5 239.3l11.5 11.5m0 -11.5l-11.5 11.5M132.4 246.6l11.5 11.5m0 -11.5l-11.5 11.5M135.4 233.4l11.5 11.5m0 -11.5l-11.5 11.5M138.3 259.9l11.5 11.5m0 -11.5l-11.5 11.5M125.1 248.1l11.5 11.5m0 -11.5l-11.5 11.5M123.6 186.1l11.5 11.5m0 -11.5l-11.5 11.5M132.4 186.1l11.5 11.5m0 -11.5l-11.5 11.5M139.8 195.0l11.5 11.5m0 -11.5l-11.5 11.5M141.3 209.7l11.5 11.5m0 -11.5l-11.5 11.5M136.9 218.6l11.5 11.5m0 -11.5l-11.5 11.5M289.7 88.9l11.5 11.5m0 -11.5l-11.5 11.5M254.2 80.2l11.5 11.5m0 -11.5l-11.5 11.5M292.8 117.2l11.5 11.5m0 -11.5l-11.5 11.5M286.7 98.3l11.5 11.5m0 -11.5l-11.5 11.5M258.0 72.3l11.5 11.5m0 -11.5l-11.5 11.5M280.0 90.6l11.5 11.5m0 -11.5l-11.5 11.5M253.8 87.6l11.5 11.5m0 -11.5l-11.5 11.5M284.4 108.8l11.5 11.5m0 -11.5l-11.5 11.5M287.4 80.6l11.5 11.5m0 -11.5l-11.5 11.5M147.8 134.5l11.5 11.5m0 -11.5l-11.5 11.5M154.9 189.0l11.5 11.5m0 -11.5l-11.5 11.5M100.1 192.4l11.5 11.5m0 -11.5l-11.5 11.5M146.6 179.2l11.5 11.5m0 -11.5l-11.5 11.5M143.3 125.7l11.5 11.5m0 -11.5l-11.5 11.5M150.5 143.4l11.5 11.5m0 -11.5l-11.5 11.5M175.8 196.4l11.5 11.5m0 -11.5l-11.5 11.5M164.1 196.2l11.5 11.5m0 -11.5l-11.5 11.5M155.4 219.7l11.5 11.5m0 -11.5l-11.5 11.5M79.0 169.5l11.5 11.5m0 -11.5l-11.5 11.5M150.1 197.7l11.5 11.5m0 -11.5l-11.5 11.5M130.8 124.5l11.5 11.5m0 -11.5l-11.5 11.5M156.4 125.9l11.5 11.5m0 -11.5l-11.5 11.5M120.4 125.0l11.5 11.5m0 -11.5l-11.5 11.5M145.9 170.1l11.5 11.5m0 -11.5l-11.5 11.5M88.2 137.7l11.5 11.5m0 -11.5l-11.5 11.5M104.6 118.7l11.5 11.5m0 -11.5l-11.5 11.5M157.3 204.8l11.5 11.5m0 -11.5l-11.5 11.5M136.7 177.6l11.5 11.5m0 -11.5l-11.5 11.5M117.4 165.0l11.5 11.5m0 -11.5l-11.5 11.5M277.1 123.1l11.5 11.5m0 -11.5l-11.5 11.5M272.4 129.5l11.5 11.5m0 -11.5l-11.5 11.5M299.5 123.3l11.5 11.5m0 -11.5l-11.5 11.5M286.3 126.7l11.5 11.5m0 -11.5l-11.5 11.5M303.4 120.4l11.5 11.5m0 -11.5l-11.5 11.5M288.0 119.2l11.5 11.5m0 -11.5l-11.5 11.5M273.3 120.7l11.5 11.5m0 -11.5l-11.5 11.5M279.5 118.5l11.5 11.5m0 -11.5l-11.5 11.5M298.8 128.2l11.5 11.5m0 -11.5l-11.5 11.5M311.7 120.1l11.5 11.5m0 -11.5l-11.5 11.5M288.0 113.6l11.5 11.5m0 -11.5l-11.5 11.5M270.8 115.7l11.5 11.5m0 -11.5l-11.5 11.5M297.6 118.4l11.5 11.5m0 -11.5l-11.5 11.5M279.2 130.0l11.5 11.5m0 -11.5l-11.5 11.5M290.3 129.3l11.5 11.5m0 -11.5l-11.5 11.5M283.8 121.2l11.5 11.5m0 -11.5l-11.5 11.5" stroke="#808080" stroke-width="3.9" fill="none"/>
<path d="M126.9 46.2l11.5 11.5m0 -11.5l-11.5 11.5M137.6 62.1l11.5 11.5m0 -11.5l-11.5 11.5M105.5 70.2l11.5 11.5m0 -11.5l-11.5 11.5M105.8 80.9l11.5 11.5m0 -11.5l-11.5 11.5M114.0 79.8l11.5 11.5m0 -11.5l-11.5 11.5M111.4 93.1l11.5 11.5m0 -11.5l-11.5 11.5M155.1 -3.6l11.5 11.5m0 -11.5l-11.5 11.5M146.2 7.5l11.5 11.5m0 -11.5l-11.5 11.5M154.3 13.4l11.5 11.5m0 -11.5l-11.5 11.5M146.2 34.1l11.5 11.5m0 -11.5l-11.5 11.5M191.2 31.1l11.5 11.5m0 -11.5l-11.5 11.5M166.9 69.5l11.5 11.5m0 -11.5l-11.5 11.5M147.7 93.1l11.5 11.5m0 -11.5l-11.5 11.5M169.1 99.8l11.5 11.5m0 -11.5l-11.5 11.5M411.1 48.1l11.5 11.5m0 -11.5l-11.5 11.5M105.2 114.5l11.5 11.5m0 -11.5l-11.5 11.5M330.3 149.2l11.5 11.5m0 -11.5l-11.5 11.5M299.6 186.6l11.5 11.5m0 -11.5l-11.5 11.5M369.0 76.2l11.5 11.5m0 -11.5l-11.5 11.5M393.2 73.8l11.5 11.5m0 -11.5l-11.5 11.5M399.2 81.0l11.5 11.5m0 -11.5l-11.5 11.5M364.2 100.2l11.5 11.5m0 -11.5l-11.5 11.5M364.8 107.2l11.5 11.5m0 -11.5l-11.5 11.5M377.2 103.2l11.5 11.5m0 -11.5l-11.5 11.5M368.2 115.2l11.5 11.5m0 -11.5l-11.5 11.5M362.8 122.2l11.5 11.5m0 -11.5l-11.5 11.5M387.2 110.8l11.5 11.5m0 -11.5l-11.5 11.5M387.2 124.2l11.5 11.5m0 -11.5l-11.5 11.5M403.2 102.2l11.5 11.5m0 -11.5l-11.5 11.5M403.2 111.2l11.5 11.5m0 -11.5l-11.5 11.5M401.2 117.2l11.5 11.5m0 -11.5l-11.5 11.5M412.2 116.2l11.5 11.5m0 -11.5l-11.5 11.5M415.8 122.8l11.5 11.5m0 -11.5l-11.5 11.5M399.2 152.2l11.5 11.5m0 -11.5l-11.5 11.5M409.8 147.2l11.5 11.5m0 -11.5l-11.5 11.5" stroke="#ff0000" stroke-width="3.9" fill="none"/>
<g fill="#ff0000" fill-opacity="0.5"></g>
<line x1="99.98" y1="-14.65" x2="157.73" y2="307.65" stroke="#008000" stroke-width="5.4"/>
</g>
<rect x="316.3" y="258.3" width="115.2" height="30.5" rx="2" ry="2" fill="#ffffff" fill-opacity="0.8" stroke="#c4c4c4" stroke-opacity="0.9" stroke-width="2"/>
<path d="M324.1 260.9l11.5 11.5m0 -11.5l-11.5 11.5" stroke="#808080" stroke-width="3.9" fill="none"/>
<path d="M324.1 274.2l11.5 11.5m0 -11.5l-11.5 11.5" stroke="#ff0000" stroke-width="3.9" fill="none"/>
<text x="346.2" y="268.9" font-size="9.2" font-family="DejaVu Sans, Liberation Sans, sans-serif">class 0 (nominal)</text>
<text x="346.2" y="281.5" font-size="9.2" font-family="DejaVu Sans, Liberation Sans, sans-serif">class 1 (anomaly)</text>
<rect x="0.40" y="0" width="435.00" height="293" fill="none" stroke="#000" stroke-width="2"/>
<path d="M57.4 293v8.2M139.4 293v8.2M221.4 293v8.2M304.4 293v8.2M386.4 293v8.2M0.40 260.0h-8.2M0.40 203.0h-8.2M0.40 147.0h-8.2M0.40 90.0h-8.2M0.40 34.0h-8.2" stroke="#000" stroke-width="2" fill="none"/>
<text x="57.4" y="325.9" text-anchor="middle" font-size="22.6" font-family="DejaVu Sans, Liberation Sans, sans-serif">−2</text>
<text x="139.4" y="325.9" text-anchor="middle" font-size="22.6" font-family="DejaVu Sans, Liberation Sans, sans-serif">0</text>
<text x="221.4" y="325.9" text-anchor="middle" font-size="22.6" font-family="DejaVu Sans, Liberation Sans, sans-serif">2</text>
<text x="304.4" y="325.9" text-anchor="middle" font-size="22.6" font-family="DejaVu Sans, Liberation Sans, sans-serif">4</text>
<text x="386.4" y="325.9" text-anchor="middle" font-size="22.6" font-family="DejaVu Sans, Liberation Sans, sans-serif">6</text>
<text x="-15.3" y="268.7" text-anchor="end" font-size="22.6" font-family="DejaVu Sans, Liberation Sans, sans-serif">−2</text>
<text x="-15.3" y="211.7" text-anchor="end" font-size="22.6" font-family="DejaVu Sans, Liberation Sans, sans-serif">0</text>
<text x="-15.3" y="155.7" text-anchor="end" font-size="22.6" font-family="DejaVu Sans, Liberation Sans, sans-serif">2</text>
<text x="-15.3" y="98.7" text-anchor="end" font-size="22.6" font-family="DejaVu Sans, Liberation Sans, sans-serif">4</text>
<text x="-15.3" y="42.7" text-anchor="end" font-size="22.6" font-family="DejaVu Sans, Liberation Sans, sans-serif">6</text>
<text x="218.0" y="-14.3" text-anchor="middle" font-size="18.4" font-family="DejaVu Sans, Liberation Sans, sans-serif">Ensemble member 3</text>
</g>
</svg>
</body></html>
